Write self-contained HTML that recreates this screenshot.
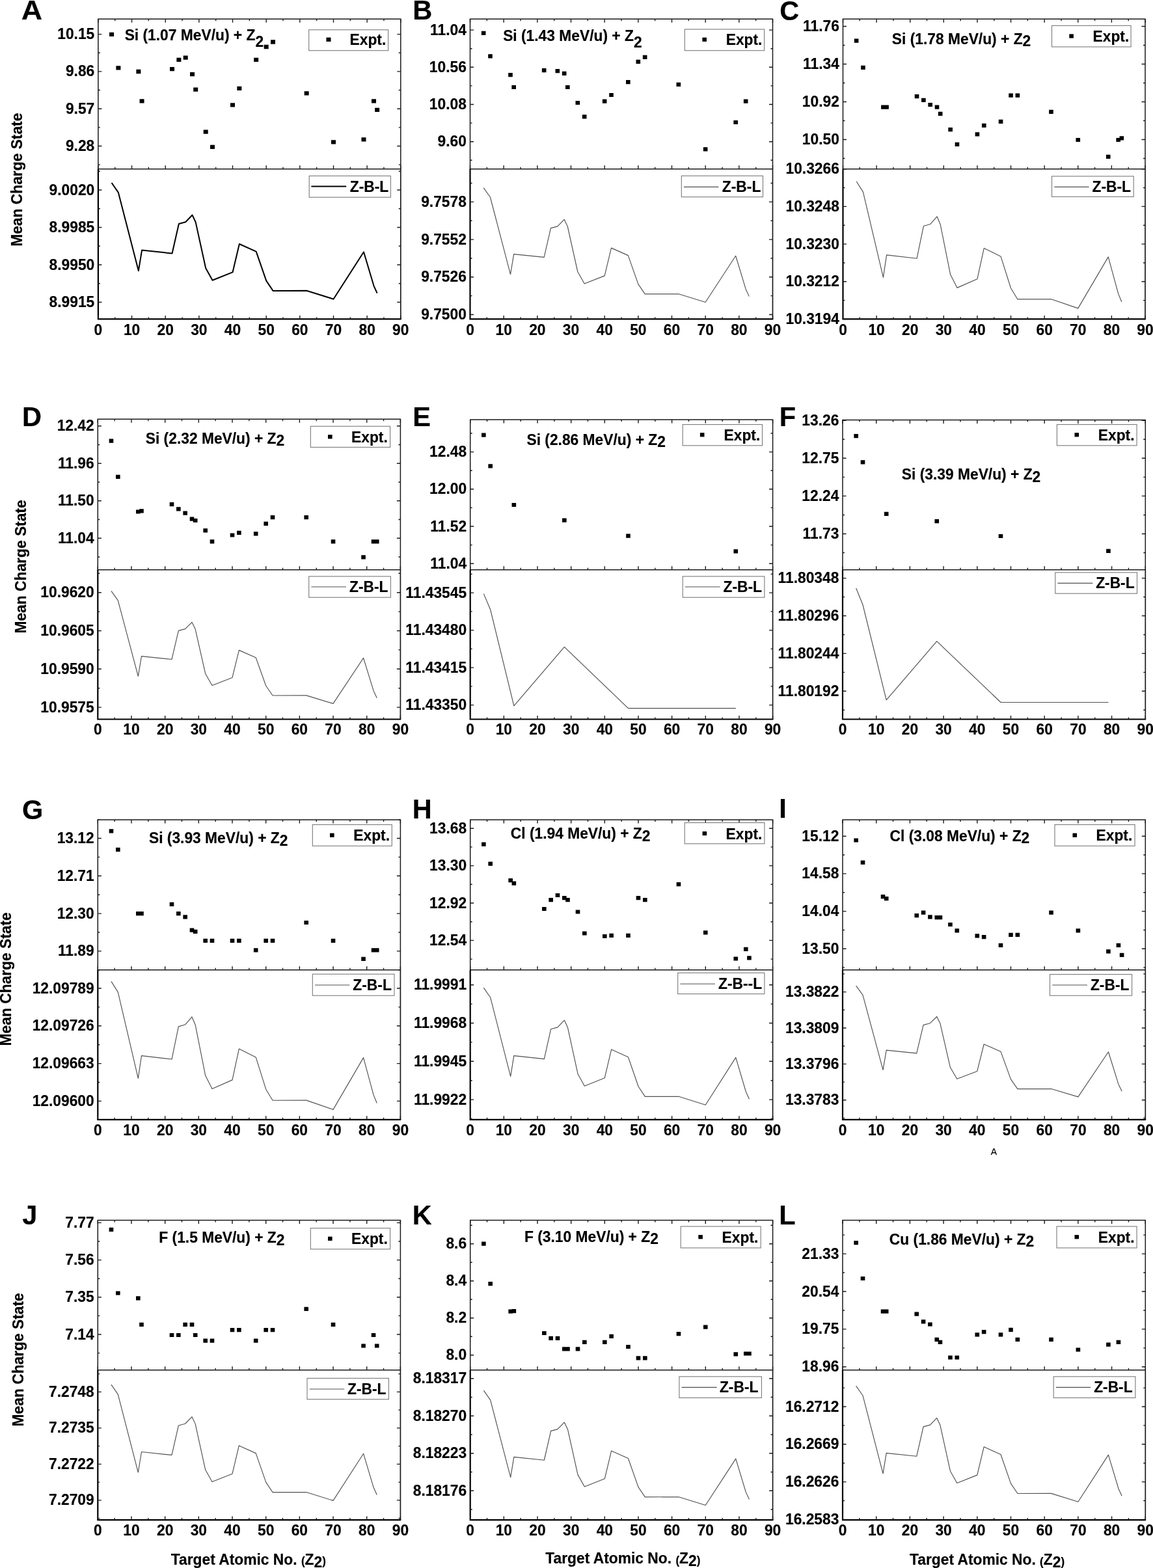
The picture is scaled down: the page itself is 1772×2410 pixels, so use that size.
<!DOCTYPE html>
<html><head><meta charset="utf-8"><title>Mean charge state vs target atomic number</title>
<style>html,body{margin:0;padding:0;background:#fff}svg{display:block}text{font-family:'Liberation Sans', Arial, sans-serif;font-weight:bold;fill:#000;stroke:#000;stroke-width:0.2px;stroke-linejoin:round}</style>
</head><body>
<svg width="1772" height="2410" viewBox="0 0 1772 2410">
<rect width="1772" height="2410" fill="#fff"/>
<path d="M150.9 259.8V29.3H615.8V259.8M150.9 259.8H615.8" fill="none" stroke="#1a1a1a" stroke-width="1.5" stroke-linecap="square"/>
<path d="M615.8 259.8V490.4" fill="none" stroke="#1a1a1a" stroke-width="1.7"/>
<path d="M150.9 259.8V490.4H616.65" fill="none" stroke="#000" stroke-width="2.2"/>
<path d="M150.9 29.3v5.5M150.9 259.8v-5.5M150.9 490.4v-5.5M176.73 29.3v3M176.73 259.8v-3M176.73 490.4v-3M202.56 29.3v5.5M202.56 259.8v-5.5M202.56 490.4v-5.5M228.38 29.3v3M228.38 259.8v-3M228.38 490.4v-3M254.21 29.3v5.5M254.21 259.8v-5.5M254.21 490.4v-5.5M280.04 29.3v3M280.04 259.8v-3M280.04 490.4v-3M305.87 29.3v5.5M305.87 259.8v-5.5M305.87 490.4v-5.5M331.69 29.3v3M331.69 259.8v-3M331.69 490.4v-3M357.52 29.3v5.5M357.52 259.8v-5.5M357.52 490.4v-5.5M383.35 29.3v3M383.35 259.8v-3M383.35 490.4v-3M409.18 29.3v5.5M409.18 259.8v-5.5M409.18 490.4v-5.5M435.01 29.3v3M435.01 259.8v-3M435.01 490.4v-3M460.83 29.3v5.5M460.83 259.8v-5.5M460.83 490.4v-5.5M486.66 29.3v3M486.66 259.8v-3M486.66 490.4v-3M512.49 29.3v5.5M512.49 259.8v-5.5M512.49 490.4v-5.5M538.32 29.3v3M538.32 259.8v-3M538.32 490.4v-3M564.14 29.3v5.5M564.14 259.8v-5.5M564.14 490.4v-5.5M589.97 29.3v3M589.97 259.8v-3M589.97 490.4v-3M615.8 29.3v5.5M615.8 259.8v-5.5M615.8 490.4v-5.5M150.9 52.6h5.5M615.8 52.6h-5.5M150.9 81.25h3M615.8 81.25h-3M150.9 109.9h5.5M615.8 109.9h-5.5M150.9 138.55h3M615.8 138.55h-3M150.9 167.2h5.5M615.8 167.2h-5.5M150.9 195.85h3M615.8 195.85h-3M150.9 224.5h5.5M615.8 224.5h-5.5M150.9 253.15h3M615.8 253.15h-3M150.9 263.25h3M615.8 263.25h-3M150.9 292h5.5M615.8 292h-5.5M150.9 320.75h3M615.8 320.75h-3M150.9 349.5h5.5M615.8 349.5h-5.5M150.9 378.25h3M615.8 378.25h-3M150.9 407h5.5M615.8 407h-5.5M150.9 435.75h3M615.8 435.75h-3M150.9 464.5h5.5M615.8 464.5h-5.5" fill="none" stroke="#1a1a1a" stroke-width="1.4"/>
<text transform="translate(145.3 60.1) scale(1 1.04)" font-size="22.8" text-anchor="end">10.15</text>
<text transform="translate(145.3 117.4) scale(1 1.04)" font-size="22.8" text-anchor="end">9.86</text>
<text transform="translate(145.3 174.7) scale(1 1.04)" font-size="22.8" text-anchor="end">9.57</text>
<text transform="translate(145.3 232) scale(1 1.04)" font-size="22.8" text-anchor="end">9.28</text>
<text transform="translate(145.3 299.5) scale(1 1.04)" font-size="22.8" text-anchor="end">9.0020</text>
<text transform="translate(145.3 357) scale(1 1.04)" font-size="22.8" text-anchor="end">8.9985</text>
<text transform="translate(145.3 414.5) scale(1 1.04)" font-size="22.8" text-anchor="end">8.9950</text>
<text transform="translate(145.3 472) scale(1 1.04)" font-size="22.8" text-anchor="end">8.9915</text>
<text transform="translate(150.9 514.7) scale(1 1.04)" font-size="22.8" text-anchor="middle">0</text>
<text transform="translate(202.56 514.7) scale(1 1.04)" font-size="22.8" text-anchor="middle">10</text>
<text transform="translate(254.21 514.7) scale(1 1.04)" font-size="22.8" text-anchor="middle">20</text>
<text transform="translate(305.87 514.7) scale(1 1.04)" font-size="22.8" text-anchor="middle">30</text>
<text transform="translate(357.52 514.7) scale(1 1.04)" font-size="22.8" text-anchor="middle">40</text>
<text transform="translate(409.18 514.7) scale(1 1.04)" font-size="22.8" text-anchor="middle">50</text>
<text transform="translate(460.83 514.7) scale(1 1.04)" font-size="22.8" text-anchor="middle">60</text>
<text transform="translate(512.49 514.7) scale(1 1.04)" font-size="22.8" text-anchor="middle">70</text>
<text transform="translate(564.14 514.7) scale(1 1.04)" font-size="22.8" text-anchor="middle">80</text>
<text transform="translate(615.8 514.7) scale(1 1.04)" font-size="22.8" text-anchor="middle">90</text>
<path d="M168.06 49.75h7v6.3h-7ZM178.39 101.15h7v6.3h-7ZM209.39 106.85h7v6.3h-7ZM214.55 152.15h7v6.3h-7ZM261.04 103.05h7v6.3h-7ZM271.37 88.75h7v6.3h-7ZM281.7 85.45h7v6.3h-7ZM292.04 110.95h7v6.3h-7ZM297.2 134.55h7v6.3h-7ZM312.7 199.45h7v6.3h-7ZM323.03 222.75h7v6.3h-7ZM354.02 158.25h7v6.3h-7ZM364.35 132.65h7v6.3h-7ZM390.18 88.75h7v6.3h-7ZM405.68 68.85h7v6.3h-7ZM416.01 61.35h7v6.3h-7ZM467.66 140.15h7v6.3h-7ZM508.99 215.25h7v6.3h-7ZM555.48 211.15h7v6.3h-7ZM570.98 152.15h7v6.3h-7ZM576.14 165.75h7v6.3h-7Z" fill="#000"/>
<polyline points="171.56,281 181.89,295.9 212.89,416.2 218.05,384.59 264.54,389.51 274.87,343.99 285.2,341.2 295.54,330.5 300.7,341.6 316.2,412.2 326.53,430.8 357.52,418.4 367.85,375 393.68,386.7 409.18,431.39 419.51,446.91 471.16,446.74 512.49,459.7 558.98,387.31 574.48,439.29 579.64,450.69" fill="none" stroke="#000" stroke-width="2.0" stroke-linejoin="round"/>
<rect x="474.7" y="45.8" width="121.9" height="31.9" fill="#fff" stroke="#7a7a7a" stroke-width="1.1"/>
<rect x="501.5" y="57.65" width="7" height="6.3" fill="#000"/>
<text transform="translate(537.5 69.4) scale(1 1.04)" font-size="22.8" text-anchor="start">Expt.</text>
<rect x="475.2" y="270.4" width="125.2" height="32.8" fill="#fff" stroke="#7a7a7a" stroke-width="1.1"/>
<path d="M478.4 286.5H532.2" stroke="#000" stroke-width="2.0"/>
<text transform="translate(537.74 294.8) scale(1 1.04)" font-size="22.8" text-anchor="start">Z-B-L</text>
<text transform="translate(191.66 62.3) scale(1 1.04)" font-size="22.8" text-anchor="start">Si (1.07 MeV/u) + Z<tspan dy="9.13">2</tspan></text>
<text transform="translate(32.72 30) scale(1.08 1.04)" font-size="41.5">A</text>
<path d="M722.5 259.8V29.3H1187.5V259.8M722.5 259.8H1187.5" fill="none" stroke="#1a1a1a" stroke-width="1.5" stroke-linecap="square"/>
<path d="M1187.5 259.8V490.4" fill="none" stroke="#1a1a1a" stroke-width="1.7"/>
<path d="M722.5 259.8V490.4H1188.35" fill="none" stroke="#000" stroke-width="2.2"/>
<path d="M722.5 29.3v5.5M722.5 259.8v-5.5M722.5 490.4v-5.5M748.33 29.3v3M748.33 259.8v-3M748.33 490.4v-3M774.17 29.3v5.5M774.17 259.8v-5.5M774.17 490.4v-5.5M800 29.3v3M800 259.8v-3M800 490.4v-3M825.83 29.3v5.5M825.83 259.8v-5.5M825.83 490.4v-5.5M851.67 29.3v3M851.67 259.8v-3M851.67 490.4v-3M877.5 29.3v5.5M877.5 259.8v-5.5M877.5 490.4v-5.5M903.33 29.3v3M903.33 259.8v-3M903.33 490.4v-3M929.17 29.3v5.5M929.17 259.8v-5.5M929.17 490.4v-5.5M955 29.3v3M955 259.8v-3M955 490.4v-3M980.83 29.3v5.5M980.83 259.8v-5.5M980.83 490.4v-5.5M1006.67 29.3v3M1006.67 259.8v-3M1006.67 490.4v-3M1032.5 29.3v5.5M1032.5 259.8v-5.5M1032.5 490.4v-5.5M1058.33 29.3v3M1058.33 259.8v-3M1058.33 490.4v-3M1084.17 29.3v5.5M1084.17 259.8v-5.5M1084.17 490.4v-5.5M1110 29.3v3M1110 259.8v-3M1110 490.4v-3M1135.83 29.3v5.5M1135.83 259.8v-5.5M1135.83 490.4v-5.5M1161.67 29.3v3M1161.67 259.8v-3M1161.67 490.4v-3M1187.5 29.3v5.5M1187.5 259.8v-5.5M1187.5 490.4v-5.5M722.5 46.1h5.5M1187.5 46.1h-5.5M722.5 74.7h3M1187.5 74.7h-3M722.5 103.3h5.5M1187.5 103.3h-5.5M722.5 131.9h3M1187.5 131.9h-3M722.5 160.5h5.5M1187.5 160.5h-5.5M722.5 189.1h3M1187.5 189.1h-3M722.5 217.7h5.5M1187.5 217.7h-5.5M722.5 246.3h3M1187.5 246.3h-3M722.5 281.55h3M1187.5 281.55h-3M722.5 310.4h5.5M1187.5 310.4h-5.5M722.5 339.25h3M1187.5 339.25h-3M722.5 368.1h5.5M1187.5 368.1h-5.5M722.5 396.95h3M1187.5 396.95h-3M722.5 425.8h5.5M1187.5 425.8h-5.5M722.5 454.65h3M1187.5 454.65h-3M722.5 483.5h5.5M1187.5 483.5h-5.5" fill="none" stroke="#1a1a1a" stroke-width="1.4"/>
<text transform="translate(716.9 53.6) scale(1 1.04)" font-size="22.8" text-anchor="end">11.04</text>
<text transform="translate(716.9 110.8) scale(1 1.04)" font-size="22.8" text-anchor="end">10.56</text>
<text transform="translate(716.9 168) scale(1 1.04)" font-size="22.8" text-anchor="end">10.08</text>
<text transform="translate(716.9 225.2) scale(1 1.04)" font-size="22.8" text-anchor="end">9.60</text>
<text transform="translate(716.9 317.9) scale(1 1.04)" font-size="22.8" text-anchor="end">9.7578</text>
<text transform="translate(716.9 375.6) scale(1 1.04)" font-size="22.8" text-anchor="end">9.7552</text>
<text transform="translate(716.9 433.3) scale(1 1.04)" font-size="22.8" text-anchor="end">9.7526</text>
<text transform="translate(716.9 491) scale(1 1.04)" font-size="22.8" text-anchor="end">9.7500</text>
<text transform="translate(722.5 514.7) scale(1 1.04)" font-size="22.8" text-anchor="middle">0</text>
<text transform="translate(774.17 514.7) scale(1 1.04)" font-size="22.8" text-anchor="middle">10</text>
<text transform="translate(825.83 514.7) scale(1 1.04)" font-size="22.8" text-anchor="middle">20</text>
<text transform="translate(877.5 514.7) scale(1 1.04)" font-size="22.8" text-anchor="middle">30</text>
<text transform="translate(929.17 514.7) scale(1 1.04)" font-size="22.8" text-anchor="middle">40</text>
<text transform="translate(980.83 514.7) scale(1 1.04)" font-size="22.8" text-anchor="middle">50</text>
<text transform="translate(1032.5 514.7) scale(1 1.04)" font-size="22.8" text-anchor="middle">60</text>
<text transform="translate(1084.17 514.7) scale(1 1.04)" font-size="22.8" text-anchor="middle">70</text>
<text transform="translate(1135.83 514.7) scale(1 1.04)" font-size="22.8" text-anchor="middle">80</text>
<text transform="translate(1187.5 514.7) scale(1 1.04)" font-size="22.8" text-anchor="middle">90</text>
<path d="M739.87 47.8h6.6v6.2h-6.6ZM750.2 83.2h6.6v6.2h-6.6ZM781.2 112.1h6.6v6.2h-6.6ZM786.37 130.9h6.6v6.2h-6.6ZM832.87 105h6.6v6.2h-6.6ZM853.53 106.1h6.6v6.2h-6.6ZM863.87 109.8h6.6v6.2h-6.6ZM869.03 130.9h6.6v6.2h-6.6ZM884.53 154.9h6.6v6.2h-6.6ZM894.87 176.3h6.6v6.2h-6.6ZM925.87 152.6h6.6v6.2h-6.6ZM936.2 142.9h6.6v6.2h-6.6ZM962.03 123h6.6v6.2h-6.6ZM977.53 91.8h6.6v6.2h-6.6ZM987.87 84.7h6.6v6.2h-6.6ZM1039.53 126.7h6.6v6.2h-6.6ZM1080.87 226.2h6.6v6.2h-6.6ZM1127.37 184.9h6.6v6.2h-6.6ZM1142.87 152.6h6.6v6.2h-6.6Z" fill="#000"/>
<polyline points="743.17,288.6 753.5,303.27 784.5,421.69 789.67,390.57 836.17,395.41 846.5,350.6 856.83,347.86 867.17,337.32 872.33,348.25 887.83,417.75 898.17,436.06 929.17,423.85 939.5,381.12 965.33,392.64 980.83,436.64 991.17,451.91 1042.83,451.75 1084.17,464.5 1130.67,393.24 1146.17,444.41 1151.33,455.63" fill="none" stroke="#505050" stroke-width="1.15" stroke-linejoin="round"/>
<rect x="1052.3" y="45" width="122.3" height="32.7" fill="#fff" stroke="#7a7a7a" stroke-width="1.1"/>
<rect x="1079.4" y="57.7" width="6.6" height="6.2" fill="#000"/>
<text transform="translate(1115.7 69.4) scale(1 1.04)" font-size="22.8" text-anchor="start">Expt.</text>
<rect x="1047.3" y="270.3" width="125.2" height="32.4" fill="#fff" stroke="#7a7a7a" stroke-width="1.1"/>
<path d="M1050.9 287.3H1104.4" stroke="#505050" stroke-width="1.15"/>
<text transform="translate(1109.84 294.5) scale(1 1.04)" font-size="22.8" text-anchor="start">Z-B-L</text>
<text transform="translate(773.16 63.2) scale(1 1.04)" font-size="22.8" text-anchor="start">Si (1.43 MeV/u) + Z<tspan dy="9.13">2</tspan></text>
<text transform="translate(634.36 30) scale(1 1.04)" font-size="41.5" text-anchor="start">B</text>
<path d="M1295.5 259.8V29.3H1760V259.8M1295.5 259.8H1760" fill="none" stroke="#1a1a1a" stroke-width="1.5" stroke-linecap="square"/>
<path d="M1760 259.8V490.4" fill="none" stroke="#1a1a1a" stroke-width="1.7"/>
<path d="M1295.5 259.8V490.4H1760.85" fill="none" stroke="#000" stroke-width="2.2"/>
<path d="M1295.5 29.3v5.5M1295.5 259.8v-5.5M1295.5 490.4v-5.5M1321.31 29.3v3M1321.31 259.8v-3M1321.31 490.4v-3M1347.11 29.3v5.5M1347.11 259.8v-5.5M1347.11 490.4v-5.5M1372.92 29.3v3M1372.92 259.8v-3M1372.92 490.4v-3M1398.72 29.3v5.5M1398.72 259.8v-5.5M1398.72 490.4v-5.5M1424.53 29.3v3M1424.53 259.8v-3M1424.53 490.4v-3M1450.33 29.3v5.5M1450.33 259.8v-5.5M1450.33 490.4v-5.5M1476.14 29.3v3M1476.14 259.8v-3M1476.14 490.4v-3M1501.94 29.3v5.5M1501.94 259.8v-5.5M1501.94 490.4v-5.5M1527.75 29.3v3M1527.75 259.8v-3M1527.75 490.4v-3M1553.56 29.3v5.5M1553.56 259.8v-5.5M1553.56 490.4v-5.5M1579.36 29.3v3M1579.36 259.8v-3M1579.36 490.4v-3M1605.17 29.3v5.5M1605.17 259.8v-5.5M1605.17 490.4v-5.5M1630.97 29.3v3M1630.97 259.8v-3M1630.97 490.4v-3M1656.78 29.3v5.5M1656.78 259.8v-5.5M1656.78 490.4v-5.5M1682.58 29.3v3M1682.58 259.8v-3M1682.58 490.4v-3M1708.39 29.3v5.5M1708.39 259.8v-5.5M1708.39 490.4v-5.5M1734.19 29.3v3M1734.19 259.8v-3M1734.19 490.4v-3M1760 29.3v5.5M1760 259.8v-5.5M1760 490.4v-5.5M1295.5 40.5h5.5M1760 40.5h-5.5M1295.5 69.5h3M1760 69.5h-3M1295.5 98.5h5.5M1760 98.5h-5.5M1295.5 127.5h3M1760 127.5h-3M1295.5 156.5h5.5M1760 156.5h-5.5M1295.5 185.5h3M1760 185.5h-3M1295.5 214.5h5.5M1760 214.5h-5.5M1295.5 243.5h3M1760 243.5h-3M1295.5 259.7h5.5M1760 259.7h-5.5M1295.5 288.55h3M1760 288.55h-3M1295.5 317.4h5.5M1760 317.4h-5.5M1295.5 346.25h3M1760 346.25h-3M1295.5 375.1h5.5M1760 375.1h-5.5M1295.5 403.95h3M1760 403.95h-3M1295.5 432.8h5.5M1760 432.8h-5.5M1295.5 461.65h3M1760 461.65h-3M1295.5 490.5h5.5M1760 490.5h-5.5" fill="none" stroke="#1a1a1a" stroke-width="1.4"/>
<text transform="translate(1289.9 48) scale(1 1.04)" font-size="22.8" text-anchor="end">11.76</text>
<text transform="translate(1289.9 106) scale(1 1.04)" font-size="22.8" text-anchor="end">11.34</text>
<text transform="translate(1289.9 164) scale(1 1.04)" font-size="22.8" text-anchor="end">10.92</text>
<text transform="translate(1289.9 222) scale(1 1.04)" font-size="22.8" text-anchor="end">10.50</text>
<text transform="translate(1289.9 267.2) scale(1 1.04)" font-size="22.8" text-anchor="end">10.3266</text>
<text transform="translate(1289.9 324.9) scale(1 1.04)" font-size="22.8" text-anchor="end">10.3248</text>
<text transform="translate(1289.9 382.6) scale(1 1.04)" font-size="22.8" text-anchor="end">10.3230</text>
<text transform="translate(1289.9 440.3) scale(1 1.04)" font-size="22.8" text-anchor="end">10.3212</text>
<text transform="translate(1289.9 498) scale(1 1.04)" font-size="22.8" text-anchor="end">10.3194</text>
<text transform="translate(1295.5 514.7) scale(1 1.04)" font-size="22.8" text-anchor="middle">0</text>
<text transform="translate(1347.11 514.7) scale(1 1.04)" font-size="22.8" text-anchor="middle">10</text>
<text transform="translate(1398.72 514.7) scale(1 1.04)" font-size="22.8" text-anchor="middle">20</text>
<text transform="translate(1450.33 514.7) scale(1 1.04)" font-size="22.8" text-anchor="middle">30</text>
<text transform="translate(1501.94 514.7) scale(1 1.04)" font-size="22.8" text-anchor="middle">40</text>
<text transform="translate(1553.56 514.7) scale(1 1.04)" font-size="22.8" text-anchor="middle">50</text>
<text transform="translate(1605.17 514.7) scale(1 1.04)" font-size="22.8" text-anchor="middle">60</text>
<text transform="translate(1656.78 514.7) scale(1 1.04)" font-size="22.8" text-anchor="middle">70</text>
<text transform="translate(1708.39 514.7) scale(1 1.04)" font-size="22.8" text-anchor="middle">80</text>
<text transform="translate(1760 514.7) scale(1 1.04)" font-size="22.8" text-anchor="middle">90</text>
<path d="M1312.84 59.6h6.6v6.2h-6.6ZM1323.17 100.8h6.6v6.2h-6.6ZM1354.13 161.6h6.6v6.2h-6.6ZM1359.29 161.6h6.6v6.2h-6.6ZM1405.74 145.1h6.6v6.2h-6.6ZM1416.07 150.7h6.6v6.2h-6.6ZM1426.39 157.9h6.6v6.2h-6.6ZM1436.71 161.6h6.6v6.2h-6.6ZM1441.87 171.8h6.6v6.2h-6.6ZM1457.36 196.1h6.6v6.2h-6.6ZM1467.68 218.7h6.6v6.2h-6.6ZM1498.64 203.3h6.6v6.2h-6.6ZM1508.97 189.8h6.6v6.2h-6.6ZM1534.77 183.8h6.6v6.2h-6.6ZM1550.26 143.6h6.6v6.2h-6.6ZM1560.58 143.6h6.6v6.2h-6.6ZM1612.19 168.8h6.6v6.2h-6.6ZM1653.48 211.9h6.6v6.2h-6.6ZM1699.93 237.8h6.6v6.2h-6.6ZM1715.41 211.9h6.6v6.2h-6.6ZM1720.57 209.3h6.6v6.2h-6.6Z" fill="#000"/>
<polyline points="1316.14,278.8 1326.47,295.07 1357.43,426.41 1362.59,391.9 1409.04,397.26 1419.37,347.57 1429.69,344.53 1440.01,332.84 1445.17,344.96 1460.66,422.04 1470.98,442.35 1501.94,428.81 1512.27,381.42 1538.07,394.2 1553.56,443 1563.88,459.93 1615.49,459.76 1656.78,473.9 1703.23,394.86 1718.71,451.62 1723.87,464.07" fill="none" stroke="#505050" stroke-width="1.15" stroke-linejoin="round"/>
<rect x="1616.5" y="39.4" width="121.6" height="32.6" fill="#fff" stroke="#7a7a7a" stroke-width="1.1"/>
<rect x="1643.3" y="52.4" width="6.6" height="6.2" fill="#000"/>
<text transform="translate(1679.5 64) scale(1 1.04)" font-size="22.8" text-anchor="start">Expt.</text>
<rect x="1616.5" y="270.9" width="125.7" height="31.5" fill="#fff" stroke="#7a7a7a" stroke-width="1.1"/>
<path d="M1620.3 287.4H1673.6" stroke="#505050" stroke-width="1.15"/>
<text transform="translate(1678.54 294.5) scale(1 1.04)" font-size="22.8" text-anchor="start">Z-B-L</text>
<text transform="translate(1370.86 67.8) scale(1 1.04)" font-size="22.8" text-anchor="start">Si (1.78 MeV/u) + Z<tspan dy="3.27">2</tspan></text>
<text transform="translate(1198.3 30.5) scale(1 1.04)" font-size="41.5" text-anchor="start">C</text>
<path d="M150.3 875.8V644.3H615.4V875.8M150.3 875.8H615.4" fill="none" stroke="#1a1a1a" stroke-width="1.5" stroke-linecap="square"/>
<path d="M615.4 875.8V1105.5" fill="none" stroke="#1a1a1a" stroke-width="1.7"/>
<path d="M150.3 875.8V1105.5H616.25" fill="none" stroke="#000" stroke-width="2.2"/>
<path d="M150.3 644.3v5.5M150.3 875.8v-5.5M150.3 1105.5v-5.5M176.14 644.3v3M176.14 875.8v-3M176.14 1105.5v-3M201.98 644.3v5.5M201.98 875.8v-5.5M201.98 1105.5v-5.5M227.82 644.3v3M227.82 875.8v-3M227.82 1105.5v-3M253.66 644.3v5.5M253.66 875.8v-5.5M253.66 1105.5v-5.5M279.49 644.3v3M279.49 875.8v-3M279.49 1105.5v-3M305.33 644.3v5.5M305.33 875.8v-5.5M305.33 1105.5v-5.5M331.17 644.3v3M331.17 875.8v-3M331.17 1105.5v-3M357.01 644.3v5.5M357.01 875.8v-5.5M357.01 1105.5v-5.5M382.85 644.3v3M382.85 875.8v-3M382.85 1105.5v-3M408.69 644.3v5.5M408.69 875.8v-5.5M408.69 1105.5v-5.5M434.53 644.3v3M434.53 875.8v-3M434.53 1105.5v-3M460.37 644.3v5.5M460.37 875.8v-5.5M460.37 1105.5v-5.5M486.21 644.3v3M486.21 875.8v-3M486.21 1105.5v-3M512.04 644.3v5.5M512.04 875.8v-5.5M512.04 1105.5v-5.5M537.88 644.3v3M537.88 875.8v-3M537.88 1105.5v-3M563.72 644.3v5.5M563.72 875.8v-5.5M563.72 1105.5v-5.5M589.56 644.3v3M589.56 875.8v-3M589.56 1105.5v-3M615.4 644.3v5.5M615.4 875.8v-5.5M615.4 1105.5v-5.5M150.3 654.8h5.5M615.4 654.8h-5.5M150.3 683.55h3M615.4 683.55h-3M150.3 712.3h5.5M615.4 712.3h-5.5M150.3 741.05h3M615.4 741.05h-3M150.3 769.8h5.5M615.4 769.8h-5.5M150.3 798.55h3M615.4 798.55h-3M150.3 827.3h5.5M615.4 827.3h-5.5M150.3 856.05h3M615.4 856.05h-3M150.3 881.3h3M615.4 881.3h-3M150.3 910.7h5.5M615.4 910.7h-5.5M150.3 940.1h3M615.4 940.1h-3M150.3 969.5h5.5M615.4 969.5h-5.5M150.3 998.9h3M615.4 998.9h-3M150.3 1028.3h5.5M615.4 1028.3h-5.5M150.3 1057.7h3M615.4 1057.7h-3M150.3 1087.1h5.5M615.4 1087.1h-5.5" fill="none" stroke="#1a1a1a" stroke-width="1.4"/>
<text transform="translate(144.7 662.3) scale(1 1.04)" font-size="22.8" text-anchor="end">12.42</text>
<text transform="translate(144.7 719.8) scale(1 1.04)" font-size="22.8" text-anchor="end">11.96</text>
<text transform="translate(144.7 777.3) scale(1 1.04)" font-size="22.8" text-anchor="end">11.50</text>
<text transform="translate(144.7 834.8) scale(1 1.04)" font-size="22.8" text-anchor="end">11.04</text>
<text transform="translate(144.7 918.2) scale(1 1.04)" font-size="22.8" text-anchor="end">10.9620</text>
<text transform="translate(144.7 977) scale(1 1.04)" font-size="22.8" text-anchor="end">10.9605</text>
<text transform="translate(144.7 1035.8) scale(1 1.04)" font-size="22.8" text-anchor="end">10.9590</text>
<text transform="translate(144.7 1094.6) scale(1 1.04)" font-size="22.8" text-anchor="end">10.9575</text>
<text transform="translate(150.3 1129.4) scale(1 1.04)" font-size="22.8" text-anchor="middle">0</text>
<text transform="translate(201.98 1129.4) scale(1 1.04)" font-size="22.8" text-anchor="middle">10</text>
<text transform="translate(253.66 1129.4) scale(1 1.04)" font-size="22.8" text-anchor="middle">20</text>
<text transform="translate(305.33 1129.4) scale(1 1.04)" font-size="22.8" text-anchor="middle">30</text>
<text transform="translate(357.01 1129.4) scale(1 1.04)" font-size="22.8" text-anchor="middle">40</text>
<text transform="translate(408.69 1129.4) scale(1 1.04)" font-size="22.8" text-anchor="middle">50</text>
<text transform="translate(460.37 1129.4) scale(1 1.04)" font-size="22.8" text-anchor="middle">60</text>
<text transform="translate(512.04 1129.4) scale(1 1.04)" font-size="22.8" text-anchor="middle">70</text>
<text transform="translate(563.72 1129.4) scale(1 1.04)" font-size="22.8" text-anchor="middle">80</text>
<text transform="translate(615.4 1129.4) scale(1 1.04)" font-size="22.8" text-anchor="middle">90</text>
<path d="M167.67 674.6h6.6v6.2h-6.6ZM178.01 729.7h6.6v6.2h-6.6ZM209.01 783.4h6.6v6.2h-6.6ZM214.18 782.3h6.6v6.2h-6.6ZM260.69 772.1h6.6v6.2h-6.6ZM271.03 779.3h6.6v6.2h-6.6ZM281.36 785.6h6.6v6.2h-6.6ZM291.7 794.6h6.6v6.2h-6.6ZM296.87 796.9h6.6v6.2h-6.6ZM312.37 812.3h6.6v6.2h-6.6ZM322.7 829.2h6.6v6.2h-6.6ZM353.71 819.4h6.6v6.2h-6.6ZM364.05 815.7h6.6v6.2h-6.6ZM389.89 817.2h6.6v6.2h-6.6ZM405.39 801.8h6.6v6.2h-6.6ZM415.72 792h6.6v6.2h-6.6ZM467.4 792h6.6v6.2h-6.6ZM508.74 829.2h6.6v6.2h-6.6ZM555.25 853.2h6.6v6.2h-6.6ZM570.76 829.2h6.6v6.2h-6.6ZM575.93 829.2h6.6v6.2h-6.6Z" fill="#000"/>
<polyline points="170.97,908.4 181.31,922.83 212.31,1039.29 217.48,1008.69 263.99,1013.45 274.33,969.38 284.66,966.68 295,956.32 300.17,967.06 315.67,1035.42 326,1053.43 357.01,1041.42 367.35,999.4 393.19,1010.73 408.69,1054 419.02,1069.01 470.7,1068.86 512.04,1081.4 558.55,1011.32 574.06,1061.64 579.23,1072.68" fill="none" stroke="#505050" stroke-width="1.15" stroke-linejoin="round"/>
<rect x="477.3" y="655.2" width="122.3" height="32.2" fill="#fff" stroke="#7a7a7a" stroke-width="1.1"/>
<rect x="504" y="668.2" width="6.6" height="6.2" fill="#000"/>
<text transform="translate(540 680) scale(1 1.04)" font-size="22.8" text-anchor="start">Expt.</text>
<rect x="474.7" y="885.9" width="125.7" height="32.3" fill="#fff" stroke="#7a7a7a" stroke-width="1.1"/>
<path d="M478.4 902H532" stroke="#505050" stroke-width="1.15"/>
<text transform="translate(537.04 910) scale(1 1.04)" font-size="22.8" text-anchor="start">Z-B-L</text>
<text transform="translate(223.76 681.7) scale(1 1.04)" font-size="22.8" text-anchor="start">Si (2.32 MeV/u) + Z<tspan dy="3.27">2</tspan></text>
<text transform="translate(33.96 654.6) scale(1 1.04)" font-size="41.5" text-anchor="start">D</text>
<path d="M722.7 875.8V645H1187.6V875.8M722.7 875.8H1187.6" fill="none" stroke="#1a1a1a" stroke-width="1.5" stroke-linecap="square"/>
<path d="M1187.6 875.8V1105.5" fill="none" stroke="#1a1a1a" stroke-width="1.7"/>
<path d="M722.7 875.8V1105.5H1188.45" fill="none" stroke="#000" stroke-width="2.2"/>
<path d="M722.7 645v5.5M722.7 875.8v-5.5M722.7 1105.5v-5.5M748.53 645v3M748.53 875.8v-3M748.53 1105.5v-3M774.36 645v5.5M774.36 875.8v-5.5M774.36 1105.5v-5.5M800.18 645v3M800.18 875.8v-3M800.18 1105.5v-3M826.01 645v5.5M826.01 875.8v-5.5M826.01 1105.5v-5.5M851.84 645v3M851.84 875.8v-3M851.84 1105.5v-3M877.67 645v5.5M877.67 875.8v-5.5M877.67 1105.5v-5.5M903.49 645v3M903.49 875.8v-3M903.49 1105.5v-3M929.32 645v5.5M929.32 875.8v-5.5M929.32 1105.5v-5.5M955.15 645v3M955.15 875.8v-3M955.15 1105.5v-3M980.98 645v5.5M980.98 875.8v-5.5M980.98 1105.5v-5.5M1006.81 645v3M1006.81 875.8v-3M1006.81 1105.5v-3M1032.63 645v5.5M1032.63 875.8v-5.5M1032.63 1105.5v-5.5M1058.46 645v3M1058.46 875.8v-3M1058.46 1105.5v-3M1084.29 645v5.5M1084.29 875.8v-5.5M1084.29 1105.5v-5.5M1110.12 645v3M1110.12 875.8v-3M1110.12 1105.5v-3M1135.94 645v5.5M1135.94 875.8v-5.5M1135.94 1105.5v-5.5M1161.77 645v3M1161.77 875.8v-3M1161.77 1105.5v-3M1187.6 645v5.5M1187.6 875.8v-5.5M1187.6 1105.5v-5.5M722.7 666h3M1187.6 666h-3M722.7 694.6h5.5M1187.6 694.6h-5.5M722.7 723.2h3M1187.6 723.2h-3M722.7 751.8h5.5M1187.6 751.8h-5.5M722.7 780.4h3M1187.6 780.4h-3M722.7 809h5.5M1187.6 809h-5.5M722.7 837.6h3M1187.6 837.6h-3M722.7 866.2h5.5M1187.6 866.2h-5.5M722.7 882.35h3M1187.6 882.35h-3M722.7 911.1h5.5M1187.6 911.1h-5.5M722.7 939.85h3M1187.6 939.85h-3M722.7 968.6h5.5M1187.6 968.6h-5.5M722.7 997.35h3M1187.6 997.35h-3M722.7 1026.1h5.5M1187.6 1026.1h-5.5M722.7 1054.85h3M1187.6 1054.85h-3M722.7 1083.6h5.5M1187.6 1083.6h-5.5" fill="none" stroke="#1a1a1a" stroke-width="1.4"/>
<text transform="translate(717.1 702.1) scale(1 1.04)" font-size="22.8" text-anchor="end">12.48</text>
<text transform="translate(717.1 759.3) scale(1 1.04)" font-size="22.8" text-anchor="end">12.00</text>
<text transform="translate(717.1 816.5) scale(1 1.04)" font-size="22.8" text-anchor="end">11.52</text>
<text transform="translate(717.1 873.7) scale(1 1.04)" font-size="22.8" text-anchor="end">11.04</text>
<text transform="translate(717.1 918.6) scale(1 1.04)" font-size="22.8" text-anchor="end">11.43545</text>
<text transform="translate(717.1 976.1) scale(1 1.04)" font-size="22.8" text-anchor="end">11.43480</text>
<text transform="translate(717.1 1033.6) scale(1 1.04)" font-size="22.8" text-anchor="end">11.43415</text>
<text transform="translate(717.1 1091.1) scale(1 1.04)" font-size="22.8" text-anchor="end">11.43350</text>
<text transform="translate(722.7 1129.4) scale(1 1.04)" font-size="22.8" text-anchor="middle">0</text>
<text transform="translate(774.36 1129.4) scale(1 1.04)" font-size="22.8" text-anchor="middle">10</text>
<text transform="translate(826.01 1129.4) scale(1 1.04)" font-size="22.8" text-anchor="middle">20</text>
<text transform="translate(877.67 1129.4) scale(1 1.04)" font-size="22.8" text-anchor="middle">30</text>
<text transform="translate(929.32 1129.4) scale(1 1.04)" font-size="22.8" text-anchor="middle">40</text>
<text transform="translate(980.98 1129.4) scale(1 1.04)" font-size="22.8" text-anchor="middle">50</text>
<text transform="translate(1032.63 1129.4) scale(1 1.04)" font-size="22.8" text-anchor="middle">60</text>
<text transform="translate(1084.29 1129.4) scale(1 1.04)" font-size="22.8" text-anchor="middle">70</text>
<text transform="translate(1135.94 1129.4) scale(1 1.04)" font-size="22.8" text-anchor="middle">80</text>
<text transform="translate(1187.6 1129.4) scale(1 1.04)" font-size="22.8" text-anchor="middle">90</text>
<path d="M740.06 665.6h6.6v6.2h-6.6ZM750.39 713.2h6.6v6.2h-6.6ZM786.55 772.9h6.6v6.2h-6.6ZM864.04 796.5h6.6v6.2h-6.6ZM962.18 820.5h6.6v6.2h-6.6ZM1127.48 844.2h6.6v6.2h-6.6Z" fill="#000"/>
<polyline points="743.36,912.6 753.69,937 789.85,1084.8 867.34,994.4 965.48,1088.6 1130.78,1088.6" fill="none" stroke="#505050" stroke-width="1.15" stroke-linejoin="round"/>
<rect x="1049.2" y="652.5" width="122.3" height="32.3" fill="#fff" stroke="#7a7a7a" stroke-width="1.1"/>
<rect x="1075.9" y="665.2" width="6.6" height="6.2" fill="#000"/>
<text transform="translate(1112.5 677) scale(1 1.04)" font-size="22.8" text-anchor="start">Expt.</text>
<rect x="1049.2" y="885.9" width="125.7" height="32.3" fill="#fff" stroke="#7a7a7a" stroke-width="1.1"/>
<path d="M1052.9 902H1106.6" stroke="#505050" stroke-width="1.15"/>
<text transform="translate(1111.54 910) scale(1 1.04)" font-size="22.8" text-anchor="start">Z-B-L</text>
<text transform="translate(809.46 683.5) scale(1 1.04)" font-size="22.8" text-anchor="start">Si (2.86 MeV/u) + Z<tspan dy="3.37">2</tspan></text>
<text transform="translate(634.16 655.2) scale(1 1.04)" font-size="41.5" text-anchor="start">E</text>
<path d="M1295 875.8V645.4H1760.3V875.8M1295 875.8H1760.3" fill="none" stroke="#1a1a1a" stroke-width="1.5" stroke-linecap="square"/>
<path d="M1760.3 875.8V1105.5" fill="none" stroke="#1a1a1a" stroke-width="1.7"/>
<path d="M1295 875.8V1105.5H1761.15" fill="none" stroke="#000" stroke-width="2.2"/>
<path d="M1295 645.4v5.5M1295 875.8v-5.5M1295 1105.5v-5.5M1320.85 645.4v3M1320.85 875.8v-3M1320.85 1105.5v-3M1346.7 645.4v5.5M1346.7 875.8v-5.5M1346.7 1105.5v-5.5M1372.55 645.4v3M1372.55 875.8v-3M1372.55 1105.5v-3M1398.4 645.4v5.5M1398.4 875.8v-5.5M1398.4 1105.5v-5.5M1424.25 645.4v3M1424.25 875.8v-3M1424.25 1105.5v-3M1450.1 645.4v5.5M1450.1 875.8v-5.5M1450.1 1105.5v-5.5M1475.95 645.4v3M1475.95 875.8v-3M1475.95 1105.5v-3M1501.8 645.4v5.5M1501.8 875.8v-5.5M1501.8 1105.5v-5.5M1527.65 645.4v3M1527.65 875.8v-3M1527.65 1105.5v-3M1553.5 645.4v5.5M1553.5 875.8v-5.5M1553.5 1105.5v-5.5M1579.35 645.4v3M1579.35 875.8v-3M1579.35 1105.5v-3M1605.2 645.4v5.5M1605.2 875.8v-5.5M1605.2 1105.5v-5.5M1631.05 645.4v3M1631.05 875.8v-3M1631.05 1105.5v-3M1656.9 645.4v5.5M1656.9 875.8v-5.5M1656.9 1105.5v-5.5M1682.75 645.4v3M1682.75 875.8v-3M1682.75 1105.5v-3M1708.6 645.4v5.5M1708.6 875.8v-5.5M1708.6 1105.5v-5.5M1734.45 645.4v3M1734.45 875.8v-3M1734.45 1105.5v-3M1760.3 645.4v5.5M1760.3 875.8v-5.5M1760.3 1105.5v-5.5M1295 646.2h5.5M1760.3 646.2h-5.5M1295 675.25h3M1760.3 675.25h-3M1295 704.3h5.5M1760.3 704.3h-5.5M1295 733.35h3M1760.3 733.35h-3M1295 762.4h5.5M1760.3 762.4h-5.5M1295 791.45h3M1760.3 791.45h-3M1295 820.5h5.5M1760.3 820.5h-5.5M1295 849.55h3M1760.3 849.55h-3M1295 888.6h5.5M1760.3 888.6h-5.5M1295 917.55h3M1760.3 917.55h-3M1295 946.5h5.5M1760.3 946.5h-5.5M1295 975.45h3M1760.3 975.45h-3M1295 1004.4h5.5M1760.3 1004.4h-5.5M1295 1033.35h3M1760.3 1033.35h-3M1295 1062.3h5.5M1760.3 1062.3h-5.5M1295 1091.25h3M1760.3 1091.25h-3" fill="none" stroke="#1a1a1a" stroke-width="1.4"/>
<text transform="translate(1289.4 653.7) scale(1 1.04)" font-size="22.8" text-anchor="end">13.26</text>
<text transform="translate(1289.4 711.8) scale(1 1.04)" font-size="22.8" text-anchor="end">12.75</text>
<text transform="translate(1289.4 769.9) scale(1 1.04)" font-size="22.8" text-anchor="end">12.24</text>
<text transform="translate(1289.4 828) scale(1 1.04)" font-size="22.8" text-anchor="end">11.73</text>
<text transform="translate(1289.4 896.1) scale(1 1.04)" font-size="22.8" text-anchor="end">11.80348</text>
<text transform="translate(1289.4 954) scale(1 1.04)" font-size="22.8" text-anchor="end">11.80296</text>
<text transform="translate(1289.4 1011.9) scale(1 1.04)" font-size="22.8" text-anchor="end">11.80244</text>
<text transform="translate(1289.4 1069.8) scale(1 1.04)" font-size="22.8" text-anchor="end">11.80192</text>
<text transform="translate(1295 1129.4) scale(1 1.04)" font-size="22.8" text-anchor="middle">0</text>
<text transform="translate(1346.7 1129.4) scale(1 1.04)" font-size="22.8" text-anchor="middle">10</text>
<text transform="translate(1398.4 1129.4) scale(1 1.04)" font-size="22.8" text-anchor="middle">20</text>
<text transform="translate(1450.1 1129.4) scale(1 1.04)" font-size="22.8" text-anchor="middle">30</text>
<text transform="translate(1501.8 1129.4) scale(1 1.04)" font-size="22.8" text-anchor="middle">40</text>
<text transform="translate(1553.5 1129.4) scale(1 1.04)" font-size="22.8" text-anchor="middle">50</text>
<text transform="translate(1605.2 1129.4) scale(1 1.04)" font-size="22.8" text-anchor="middle">60</text>
<text transform="translate(1656.9 1129.4) scale(1 1.04)" font-size="22.8" text-anchor="middle">70</text>
<text transform="translate(1708.6 1129.4) scale(1 1.04)" font-size="22.8" text-anchor="middle">80</text>
<text transform="translate(1760.3 1129.4) scale(1 1.04)" font-size="22.8" text-anchor="middle">90</text>
<path d="M1312.38 667.1h6.6v6.2h-6.6ZM1322.72 707.2h6.6v6.2h-6.6ZM1358.91 786.8h6.6v6.2h-6.6ZM1436.46 798h6.6v6.2h-6.6ZM1534.69 820.9h6.6v6.2h-6.6ZM1700.13 843.8h6.6v6.2h-6.6Z" fill="#000"/>
<polyline points="1315.68,904 1326.02,929.5 1362.21,1075.8 1439.76,985.7 1537.99,1079.5 1703.43,1079.5" fill="none" stroke="#505050" stroke-width="1.15" stroke-linejoin="round"/>
<rect x="1624.4" y="652.5" width="122.7" height="32.3" fill="#fff" stroke="#7a7a7a" stroke-width="1.1"/>
<rect x="1651.5" y="665.2" width="6.6" height="6.2" fill="#000"/>
<text transform="translate(1687.8 677) scale(1 1.04)" font-size="22.8" text-anchor="start">Expt.</text>
<rect x="1621.8" y="879.9" width="125.7" height="32.3" fill="#fff" stroke="#7a7a7a" stroke-width="1.1"/>
<path d="M1625.5 896.4H1679.2" stroke="#505050" stroke-width="1.15"/>
<text transform="translate(1684.14 904) scale(1 1.04)" font-size="22.8" text-anchor="start">Z-B-L</text>
<text transform="translate(1385.86 737.1) scale(1 1.04)" font-size="22.8" text-anchor="start">Si (3.39 MeV/u) + Z<tspan dy="3.46">2</tspan></text>
<text transform="translate(1197.86 655) scale(1 1.04)" font-size="41.5" text-anchor="start">F</text>
<path d="M150.3 1490.8V1260H615.4V1490.8M150.3 1490.8H615.4" fill="none" stroke="#1a1a1a" stroke-width="1.5" stroke-linecap="square"/>
<path d="M615.4 1490.8V1720.8" fill="none" stroke="#1a1a1a" stroke-width="1.7"/>
<path d="M150.3 1490.8V1720.8H616.25" fill="none" stroke="#000" stroke-width="2.2"/>
<path d="M150.3 1260v5.5M150.3 1490.8v-5.5M150.3 1720.8v-5.5M176.14 1260v3M176.14 1490.8v-3M176.14 1720.8v-3M201.98 1260v5.5M201.98 1490.8v-5.5M201.98 1720.8v-5.5M227.82 1260v3M227.82 1490.8v-3M227.82 1720.8v-3M253.66 1260v5.5M253.66 1490.8v-5.5M253.66 1720.8v-5.5M279.49 1260v3M279.49 1490.8v-3M279.49 1720.8v-3M305.33 1260v5.5M305.33 1490.8v-5.5M305.33 1720.8v-5.5M331.17 1260v3M331.17 1490.8v-3M331.17 1720.8v-3M357.01 1260v5.5M357.01 1490.8v-5.5M357.01 1720.8v-5.5M382.85 1260v3M382.85 1490.8v-3M382.85 1720.8v-3M408.69 1260v5.5M408.69 1490.8v-5.5M408.69 1720.8v-5.5M434.53 1260v3M434.53 1490.8v-3M434.53 1720.8v-3M460.37 1260v5.5M460.37 1490.8v-5.5M460.37 1720.8v-5.5M486.21 1260v3M486.21 1490.8v-3M486.21 1720.8v-3M512.04 1260v5.5M512.04 1490.8v-5.5M512.04 1720.8v-5.5M537.88 1260v3M537.88 1490.8v-3M537.88 1720.8v-3M563.72 1260v5.5M563.72 1490.8v-5.5M563.72 1720.8v-5.5M589.56 1260v3M589.56 1490.8v-3M589.56 1720.8v-3M615.4 1260v5.5M615.4 1490.8v-5.5M615.4 1720.8v-5.5M150.3 1259.6h3M615.4 1259.6h-3M150.3 1288.5h5.5M615.4 1288.5h-5.5M150.3 1317.4h3M615.4 1317.4h-3M150.3 1346.3h5.5M615.4 1346.3h-5.5M150.3 1375.2h3M615.4 1375.2h-3M150.3 1404.1h5.5M615.4 1404.1h-5.5M150.3 1433h3M615.4 1433h-3M150.3 1461.9h5.5M615.4 1461.9h-5.5M150.3 1490.8h3M615.4 1490.8h-3M150.3 1519h5.5M615.4 1519h-5.5M150.3 1547.9h3M615.4 1547.9h-3M150.3 1576.8h5.5M615.4 1576.8h-5.5M150.3 1605.7h3M615.4 1605.7h-3M150.3 1634.6h5.5M615.4 1634.6h-5.5M150.3 1663.5h3M615.4 1663.5h-3M150.3 1692.4h5.5M615.4 1692.4h-5.5M150.3 1721.3h3M615.4 1721.3h-3" fill="none" stroke="#1a1a1a" stroke-width="1.4"/>
<text transform="translate(144.7 1296) scale(1 1.04)" font-size="22.8" text-anchor="end">13.12</text>
<text transform="translate(144.7 1353.8) scale(1 1.04)" font-size="22.8" text-anchor="end">12.71</text>
<text transform="translate(144.7 1411.6) scale(1 1.04)" font-size="22.8" text-anchor="end">12.30</text>
<text transform="translate(144.7 1469.4) scale(1 1.04)" font-size="22.8" text-anchor="end">11.89</text>
<text transform="translate(144.7 1526.5) scale(1 1.04)" font-size="22.8" text-anchor="end">12.09789</text>
<text transform="translate(144.7 1584.3) scale(1 1.04)" font-size="22.8" text-anchor="end">12.09726</text>
<text transform="translate(144.7 1642.1) scale(1 1.04)" font-size="22.8" text-anchor="end">12.09663</text>
<text transform="translate(144.7 1699.9) scale(1 1.04)" font-size="22.8" text-anchor="end">12.09600</text>
<text transform="translate(150.3 1745.1) scale(1 1.04)" font-size="22.8" text-anchor="middle">0</text>
<text transform="translate(201.98 1745.1) scale(1 1.04)" font-size="22.8" text-anchor="middle">10</text>
<text transform="translate(253.66 1745.1) scale(1 1.04)" font-size="22.8" text-anchor="middle">20</text>
<text transform="translate(305.33 1745.1) scale(1 1.04)" font-size="22.8" text-anchor="middle">30</text>
<text transform="translate(357.01 1745.1) scale(1 1.04)" font-size="22.8" text-anchor="middle">40</text>
<text transform="translate(408.69 1745.1) scale(1 1.04)" font-size="22.8" text-anchor="middle">50</text>
<text transform="translate(460.37 1745.1) scale(1 1.04)" font-size="22.8" text-anchor="middle">60</text>
<text transform="translate(512.04 1745.1) scale(1 1.04)" font-size="22.8" text-anchor="middle">70</text>
<text transform="translate(563.72 1745.1) scale(1 1.04)" font-size="22.8" text-anchor="middle">80</text>
<text transform="translate(615.4 1745.1) scale(1 1.04)" font-size="22.8" text-anchor="middle">90</text>
<path d="M167.67 1274.2h6.6v6.2h-6.6ZM178.01 1302.7h6.6v6.2h-6.6ZM209.01 1401h6.6v6.2h-6.6ZM214.18 1401h6.6v6.2h-6.6ZM260.69 1386.8h6.6v6.2h-6.6ZM271.03 1401h6.6v6.2h-6.6ZM281.36 1406.3h6.6v6.2h-6.6ZM291.7 1426.5h6.6v6.2h-6.6ZM296.87 1428.8h6.6v6.2h-6.6ZM312.37 1442.7h6.6v6.2h-6.6ZM322.7 1442.7h6.6v6.2h-6.6ZM353.71 1442.7h6.6v6.2h-6.6ZM364.05 1442.7h6.6v6.2h-6.6ZM389.89 1457.3h6.6v6.2h-6.6ZM405.39 1442.7h6.6v6.2h-6.6ZM415.72 1442.7h6.6v6.2h-6.6ZM467.4 1414.9h6.6v6.2h-6.6ZM508.74 1442.7h6.6v6.2h-6.6ZM555.25 1470.8h6.6v6.2h-6.6ZM570.76 1457.3h6.6v6.2h-6.6ZM575.93 1457.3h6.6v6.2h-6.6Z" fill="#000"/>
<polyline points="170.97,1508.4 181.31,1524.83 212.31,1657.45 217.48,1622.6 263.99,1628.02 274.33,1577.84 284.66,1574.77 295,1562.97 300.17,1575.2 315.67,1653.04 326,1673.55 357.01,1659.87 367.35,1612.02 393.19,1624.93 408.69,1674.2 419.02,1691.29 470.7,1691.12 512.04,1705.4 558.55,1625.6 574.06,1682.9 579.23,1695.47" fill="none" stroke="#505050" stroke-width="1.15" stroke-linejoin="round"/>
<rect x="480.3" y="1267.5" width="122" height="32.7" fill="#fff" stroke="#7a7a7a" stroke-width="1.1"/>
<rect x="507" y="1280.6" width="6.6" height="6.2" fill="#000"/>
<text transform="translate(543.3 1292.3) scale(1 1.04)" font-size="22.8" text-anchor="start">Expt.</text>
<rect x="480.3" y="1497.2" width="125.7" height="33" fill="#fff" stroke="#7a7a7a" stroke-width="1.1"/>
<path d="M484 1514H537.3" stroke="#505050" stroke-width="1.15"/>
<text transform="translate(542.34 1521.8) scale(1 1.04)" font-size="22.8" text-anchor="start">Z-B-L</text>
<text transform="translate(228.96 1296.2) scale(1 1.04)" font-size="22.8" text-anchor="start">Si (3.93 MeV/u) + Z<tspan dy="3.27">2</tspan></text>
<text transform="translate(33.9 1258.8) scale(1 1.04)" font-size="41.5" text-anchor="start">G</text>
<path d="M722.7 1490.8V1260H1187.6V1490.8M722.7 1490.8H1187.6" fill="none" stroke="#1a1a1a" stroke-width="1.5" stroke-linecap="square"/>
<path d="M1187.6 1490.8V1720.8" fill="none" stroke="#1a1a1a" stroke-width="1.7"/>
<path d="M722.7 1490.8V1720.8H1188.45" fill="none" stroke="#000" stroke-width="2.2"/>
<path d="M722.7 1260v5.5M722.7 1490.8v-5.5M722.7 1720.8v-5.5M748.53 1260v3M748.53 1490.8v-3M748.53 1720.8v-3M774.36 1260v5.5M774.36 1490.8v-5.5M774.36 1720.8v-5.5M800.18 1260v3M800.18 1490.8v-3M800.18 1720.8v-3M826.01 1260v5.5M826.01 1490.8v-5.5M826.01 1720.8v-5.5M851.84 1260v3M851.84 1490.8v-3M851.84 1720.8v-3M877.67 1260v5.5M877.67 1490.8v-5.5M877.67 1720.8v-5.5M903.49 1260v3M903.49 1490.8v-3M903.49 1720.8v-3M929.32 1260v5.5M929.32 1490.8v-5.5M929.32 1720.8v-5.5M955.15 1260v3M955.15 1490.8v-3M955.15 1720.8v-3M980.98 1260v5.5M980.98 1490.8v-5.5M980.98 1720.8v-5.5M1006.81 1260v3M1006.81 1490.8v-3M1006.81 1720.8v-3M1032.63 1260v5.5M1032.63 1490.8v-5.5M1032.63 1720.8v-5.5M1058.46 1260v3M1058.46 1490.8v-3M1058.46 1720.8v-3M1084.29 1260v5.5M1084.29 1490.8v-5.5M1084.29 1720.8v-5.5M1110.12 1260v3M1110.12 1490.8v-3M1110.12 1720.8v-3M1135.94 1260v5.5M1135.94 1490.8v-5.5M1135.94 1720.8v-5.5M1161.77 1260v3M1161.77 1490.8v-3M1161.77 1720.8v-3M1187.6 1260v5.5M1187.6 1490.8v-5.5M1187.6 1720.8v-5.5M722.7 1273.2h5.5M1187.6 1273.2h-5.5M722.7 1301.9h3M1187.6 1301.9h-3M722.7 1330.6h5.5M1187.6 1330.6h-5.5M722.7 1359.3h3M1187.6 1359.3h-3M722.7 1388h5.5M1187.6 1388h-5.5M722.7 1416.7h3M1187.6 1416.7h-3M722.7 1445.4h5.5M1187.6 1445.4h-5.5M722.7 1474.1h3M1187.6 1474.1h-3M722.7 1513.7h5.5M1187.6 1513.7h-5.5M722.7 1543.1h3M1187.6 1543.1h-3M722.7 1572.5h5.5M1187.6 1572.5h-5.5M722.7 1601.9h3M1187.6 1601.9h-3M722.7 1631.3h5.5M1187.6 1631.3h-5.5M722.7 1660.7h3M1187.6 1660.7h-3M722.7 1690.1h5.5M1187.6 1690.1h-5.5M722.7 1719.5h3M1187.6 1719.5h-3" fill="none" stroke="#1a1a1a" stroke-width="1.4"/>
<text transform="translate(717.1 1280.7) scale(1 1.04)" font-size="22.8" text-anchor="end">13.68</text>
<text transform="translate(717.1 1338.1) scale(1 1.04)" font-size="22.8" text-anchor="end">13.30</text>
<text transform="translate(717.1 1395.5) scale(1 1.04)" font-size="22.8" text-anchor="end">12.92</text>
<text transform="translate(717.1 1452.9) scale(1 1.04)" font-size="22.8" text-anchor="end">12.54</text>
<text transform="translate(717.1 1521.2) scale(1 1.04)" font-size="22.8" text-anchor="end">11.9991</text>
<text transform="translate(717.1 1580) scale(1 1.04)" font-size="22.8" text-anchor="end">11.9968</text>
<text transform="translate(717.1 1638.8) scale(1 1.04)" font-size="22.8" text-anchor="end">11.9945</text>
<text transform="translate(717.1 1697.6) scale(1 1.04)" font-size="22.8" text-anchor="end">11.9922</text>
<text transform="translate(722.7 1745.1) scale(1 1.04)" font-size="22.8" text-anchor="middle">0</text>
<text transform="translate(774.36 1745.1) scale(1 1.04)" font-size="22.8" text-anchor="middle">10</text>
<text transform="translate(826.01 1745.1) scale(1 1.04)" font-size="22.8" text-anchor="middle">20</text>
<text transform="translate(877.67 1745.1) scale(1 1.04)" font-size="22.8" text-anchor="middle">30</text>
<text transform="translate(929.32 1745.1) scale(1 1.04)" font-size="22.8" text-anchor="middle">40</text>
<text transform="translate(980.98 1745.1) scale(1 1.04)" font-size="22.8" text-anchor="middle">50</text>
<text transform="translate(1032.63 1745.1) scale(1 1.04)" font-size="22.8" text-anchor="middle">60</text>
<text transform="translate(1084.29 1745.1) scale(1 1.04)" font-size="22.8" text-anchor="middle">70</text>
<text transform="translate(1135.94 1745.1) scale(1 1.04)" font-size="22.8" text-anchor="middle">80</text>
<text transform="translate(1187.6 1745.1) scale(1 1.04)" font-size="22.8" text-anchor="middle">90</text>
<path d="M740.06 1294.5h6.6v6.2h-6.6ZM750.39 1324.5h6.6v6.2h-6.6ZM781.39 1350h6.6v6.2h-6.6ZM786.55 1354.5h6.6v6.2h-6.6ZM833.04 1393.9h6.6v6.2h-6.6ZM843.37 1380h6.6v6.2h-6.6ZM853.7 1372.9h6.6v6.2h-6.6ZM864.04 1377h6.6v6.2h-6.6ZM869.2 1380h6.6v6.2h-6.6ZM884.7 1398.4h6.6v6.2h-6.6ZM895.03 1431.4h6.6v6.2h-6.6ZM926.02 1435.9h6.6v6.2h-6.6ZM936.35 1434.8h6.6v6.2h-6.6ZM962.18 1434.8h6.6v6.2h-6.6ZM977.68 1377h6.6v6.2h-6.6ZM988.01 1380h6.6v6.2h-6.6ZM1039.66 1356h6.6v6.2h-6.6ZM1080.99 1430.3h6.6v6.2h-6.6ZM1127.48 1470.4h6.6v6.2h-6.6ZM1142.98 1455.8h6.6v6.2h-6.6ZM1148.14 1469.3h6.6v6.2h-6.6Z" fill="#000"/>
<polyline points="743.36,1518.2 753.69,1533.22 784.69,1654.46 789.85,1622.6 836.34,1627.56 846.67,1581.69 857,1578.88 867.34,1568.09 872.5,1579.27 888,1650.43 898.33,1669.18 929.32,1656.68 939.65,1612.93 965.48,1624.73 980.98,1669.77 991.31,1685.4 1042.96,1685.24 1084.29,1698.3 1130.78,1625.34 1146.28,1677.73 1151.44,1689.22" fill="none" stroke="#505050" stroke-width="1.15" stroke-linejoin="round"/>
<rect x="1052.2" y="1264.5" width="122.7" height="32.3" fill="#fff" stroke="#7a7a7a" stroke-width="1.1"/>
<rect x="1079.6" y="1277.9" width="6.6" height="6.2" fill="#000"/>
<text transform="translate(1115.6 1289.5) scale(1 1.04)" font-size="22.8" text-anchor="start">Expt.</text>
<rect x="1041.7" y="1495.3" width="133.2" height="32.3" fill="#fff" stroke="#7a7a7a" stroke-width="1.1"/>
<path d="M1045.4 1512.2H1099" stroke="#505050" stroke-width="1.15"/>
<text transform="translate(1104.04 1520) scale(1 1.04)" font-size="22.8" text-anchor="start">Z-B--L</text>
<text transform="translate(784.77 1289) scale(1 1.04)" font-size="22.8" text-anchor="start">Cl (1.94 MeV/u) + Z<tspan dy="3.65">2</tspan></text>
<text transform="translate(633.66 1258.2) scale(1 1.04)" font-size="41.5" text-anchor="start">H</text>
<path d="M1295 1490.8V1260H1760.3V1490.8M1295 1490.8H1760.3" fill="none" stroke="#1a1a1a" stroke-width="1.5" stroke-linecap="square"/>
<path d="M1760.3 1490.8V1720.8" fill="none" stroke="#1a1a1a" stroke-width="1.7"/>
<path d="M1295 1490.8V1720.8H1761.15" fill="none" stroke="#000" stroke-width="2.2"/>
<path d="M1295 1260v5.5M1295 1490.8v-5.5M1295 1720.8v-5.5M1320.85 1260v3M1320.85 1490.8v-3M1320.85 1720.8v-3M1346.7 1260v5.5M1346.7 1490.8v-5.5M1346.7 1720.8v-5.5M1372.55 1260v3M1372.55 1490.8v-3M1372.55 1720.8v-3M1398.4 1260v5.5M1398.4 1490.8v-5.5M1398.4 1720.8v-5.5M1424.25 1260v3M1424.25 1490.8v-3M1424.25 1720.8v-3M1450.1 1260v5.5M1450.1 1490.8v-5.5M1450.1 1720.8v-5.5M1475.95 1260v3M1475.95 1490.8v-3M1475.95 1720.8v-3M1501.8 1260v5.5M1501.8 1490.8v-5.5M1501.8 1720.8v-5.5M1527.65 1260v3M1527.65 1490.8v-3M1527.65 1720.8v-3M1553.5 1260v5.5M1553.5 1490.8v-5.5M1553.5 1720.8v-5.5M1579.35 1260v3M1579.35 1490.8v-3M1579.35 1720.8v-3M1605.2 1260v5.5M1605.2 1490.8v-5.5M1605.2 1720.8v-5.5M1631.05 1260v3M1631.05 1490.8v-3M1631.05 1720.8v-3M1656.9 1260v5.5M1656.9 1490.8v-5.5M1656.9 1720.8v-5.5M1682.75 1260v3M1682.75 1490.8v-3M1682.75 1720.8v-3M1708.6 1260v5.5M1708.6 1490.8v-5.5M1708.6 1720.8v-5.5M1734.45 1260v3M1734.45 1490.8v-3M1734.45 1720.8v-3M1760.3 1260v5.5M1760.3 1490.8v-5.5M1760.3 1720.8v-5.5M1295 1285.2h5.5M1760.3 1285.2h-5.5M1295 1314.05h3M1760.3 1314.05h-3M1295 1342.9h5.5M1760.3 1342.9h-5.5M1295 1371.75h3M1760.3 1371.75h-3M1295 1400.6h5.5M1760.3 1400.6h-5.5M1295 1429.45h3M1760.3 1429.45h-3M1295 1458.3h5.5M1760.3 1458.3h-5.5M1295 1487.15h3M1760.3 1487.15h-3M1295 1496.9h3M1760.3 1496.9h-3M1295 1524.6h5.5M1760.3 1524.6h-5.5M1295 1552.3h3M1760.3 1552.3h-3M1295 1580h5.5M1760.3 1580h-5.5M1295 1607.7h3M1760.3 1607.7h-3M1295 1635.4h5.5M1760.3 1635.4h-5.5M1295 1663.1h3M1760.3 1663.1h-3M1295 1690.8h5.5M1760.3 1690.8h-5.5M1295 1718.5h3M1760.3 1718.5h-3" fill="none" stroke="#1a1a1a" stroke-width="1.4"/>
<text transform="translate(1289.4 1292.7) scale(1 1.04)" font-size="22.8" text-anchor="end">15.12</text>
<text transform="translate(1289.4 1350.4) scale(1 1.04)" font-size="22.8" text-anchor="end">14.58</text>
<text transform="translate(1289.4 1408.1) scale(1 1.04)" font-size="22.8" text-anchor="end">14.04</text>
<text transform="translate(1289.4 1465.8) scale(1 1.04)" font-size="22.8" text-anchor="end">13.50</text>
<text transform="translate(1289.4 1532.1) scale(1 1.04)" font-size="22.8" text-anchor="end">13.3822</text>
<text transform="translate(1289.4 1587.5) scale(1 1.04)" font-size="22.8" text-anchor="end">13.3809</text>
<text transform="translate(1289.4 1642.9) scale(1 1.04)" font-size="22.8" text-anchor="end">13.3796</text>
<text transform="translate(1289.4 1698.3) scale(1 1.04)" font-size="22.8" text-anchor="end">13.3783</text>
<text transform="translate(1295 1745.1) scale(1 1.04)" font-size="22.8" text-anchor="middle">0</text>
<text transform="translate(1346.7 1745.1) scale(1 1.04)" font-size="22.8" text-anchor="middle">10</text>
<text transform="translate(1398.4 1745.1) scale(1 1.04)" font-size="22.8" text-anchor="middle">20</text>
<text transform="translate(1450.1 1745.1) scale(1 1.04)" font-size="22.8" text-anchor="middle">30</text>
<text transform="translate(1501.8 1745.1) scale(1 1.04)" font-size="22.8" text-anchor="middle">40</text>
<text transform="translate(1553.5 1745.1) scale(1 1.04)" font-size="22.8" text-anchor="middle">50</text>
<text transform="translate(1605.2 1745.1) scale(1 1.04)" font-size="22.8" text-anchor="middle">60</text>
<text transform="translate(1656.9 1745.1) scale(1 1.04)" font-size="22.8" text-anchor="middle">70</text>
<text transform="translate(1708.6 1745.1) scale(1 1.04)" font-size="22.8" text-anchor="middle">80</text>
<text transform="translate(1760.3 1745.1) scale(1 1.04)" font-size="22.8" text-anchor="middle">90</text>
<path d="M1312.38 1288.4h6.6v6.2h-6.6ZM1322.72 1322.6h6.6v6.2h-6.6ZM1353.74 1375.1h6.6v6.2h-6.6ZM1358.91 1378.1h6.6v6.2h-6.6ZM1405.44 1404h6.6v6.2h-6.6ZM1415.78 1399.5h6.6v6.2h-6.6ZM1426.12 1406.3h6.6v6.2h-6.6ZM1436.46 1407h6.6v6.2h-6.6ZM1441.63 1407h6.6v6.2h-6.6ZM1457.14 1417.9h6.6v6.2h-6.6ZM1467.48 1427.3h6.6v6.2h-6.6ZM1498.5 1435.2h6.6v6.2h-6.6ZM1508.84 1437h6.6v6.2h-6.6ZM1534.69 1449.8h6.6v6.2h-6.6ZM1550.2 1433.7h6.6v6.2h-6.6ZM1560.54 1433.7h6.6v6.2h-6.6ZM1612.24 1399.5h6.6v6.2h-6.6ZM1653.6 1427.3h6.6v6.2h-6.6ZM1700.13 1459.2h6.6v6.2h-6.6ZM1715.64 1449.8h6.6v6.2h-6.6ZM1720.81 1464.8h6.6v6.2h-6.6Z" fill="#000"/>
<polyline points="1315.68,1515.2 1326.02,1529.44 1357.04,1644.35 1362.21,1614.15 1408.74,1618.85 1419.08,1575.37 1429.42,1572.71 1439.76,1562.48 1444.93,1573.08 1460.44,1640.53 1470.78,1658.3 1501.8,1646.45 1512.14,1604.99 1537.99,1616.17 1553.5,1658.86 1563.84,1673.68 1615.54,1673.52 1656.9,1685.9 1703.43,1616.75 1718.94,1666.41 1724.11,1677.3" fill="none" stroke="#505050" stroke-width="1.15" stroke-linejoin="round"/>
<rect x="1621" y="1267.5" width="123.1" height="32.7" fill="#fff" stroke="#7a7a7a" stroke-width="1.1"/>
<rect x="1648.5" y="1280.6" width="6.6" height="6.2" fill="#000"/>
<text transform="translate(1684.5 1292.3) scale(1 1.04)" font-size="22.8" text-anchor="start">Expt.</text>
<rect x="1613.5" y="1497.6" width="126.1" height="32.6" fill="#fff" stroke="#7a7a7a" stroke-width="1.1"/>
<path d="M1617.3 1514H1671" stroke="#505050" stroke-width="1.15"/>
<text transform="translate(1675.94 1521.8) scale(1 1.04)" font-size="22.8" text-anchor="start">Z-B-L</text>
<text transform="translate(1367.57 1292.8) scale(1 1.04)" font-size="22.8" text-anchor="start">Cl (3.08 MeV/u) + Z<tspan dy="3.46">2</tspan></text>
<text transform="translate(1197.26 1257.4) scale(1 1.04)" font-size="41.5" text-anchor="start">I</text>
<path d="M150.3 2105.7V1875.6H615.4V2105.7M150.3 2105.7H615.4" fill="none" stroke="#1a1a1a" stroke-width="1.5" stroke-linecap="square"/>
<path d="M615.4 2105.7V2336.1" fill="none" stroke="#1a1a1a" stroke-width="1.7"/>
<path d="M150.3 2105.7V2336.1H616.25" fill="none" stroke="#000" stroke-width="2.2"/>
<path d="M150.3 1875.6v5.5M150.3 2105.7v-5.5M150.3 2336.1v-5.5M176.14 1875.6v3M176.14 2105.7v-3M176.14 2336.1v-3M201.98 1875.6v5.5M201.98 2105.7v-5.5M201.98 2336.1v-5.5M227.82 1875.6v3M227.82 2105.7v-3M227.82 2336.1v-3M253.66 1875.6v5.5M253.66 2105.7v-5.5M253.66 2336.1v-5.5M279.49 1875.6v3M279.49 2105.7v-3M279.49 2336.1v-3M305.33 1875.6v5.5M305.33 2105.7v-5.5M305.33 2336.1v-5.5M331.17 1875.6v3M331.17 2105.7v-3M331.17 2336.1v-3M357.01 1875.6v5.5M357.01 2105.7v-5.5M357.01 2336.1v-5.5M382.85 1875.6v3M382.85 2105.7v-3M382.85 2336.1v-3M408.69 1875.6v5.5M408.69 2105.7v-5.5M408.69 2336.1v-5.5M434.53 1875.6v3M434.53 2105.7v-3M434.53 2336.1v-3M460.37 1875.6v5.5M460.37 2105.7v-5.5M460.37 2336.1v-5.5M486.21 1875.6v3M486.21 2105.7v-3M486.21 2336.1v-3M512.04 1875.6v5.5M512.04 2105.7v-5.5M512.04 2336.1v-5.5M537.88 1875.6v3M537.88 2105.7v-3M537.88 2336.1v-3M563.72 1875.6v5.5M563.72 2105.7v-5.5M563.72 2336.1v-5.5M589.56 1875.6v3M589.56 2105.7v-3M589.56 2336.1v-3M615.4 1875.6v5.5M615.4 2105.7v-5.5M615.4 2336.1v-5.5M150.3 1879.4h5.5M615.4 1879.4h-5.5M150.3 1908h3M615.4 1908h-3M150.3 1936.6h5.5M615.4 1936.6h-5.5M150.3 1965.2h3M615.4 1965.2h-3M150.3 1993.8h5.5M615.4 1993.8h-5.5M150.3 2022.4h3M615.4 2022.4h-3M150.3 2051h5.5M615.4 2051h-5.5M150.3 2079.6h3M615.4 2079.6h-3M150.3 2111.65h3M615.4 2111.65h-3M150.3 2139.4h5.5M615.4 2139.4h-5.5M150.3 2167.15h3M615.4 2167.15h-3M150.3 2194.9h5.5M615.4 2194.9h-5.5M150.3 2222.65h3M615.4 2222.65h-3M150.3 2250.4h5.5M615.4 2250.4h-5.5M150.3 2278.15h3M615.4 2278.15h-3M150.3 2305.9h5.5M615.4 2305.9h-5.5M150.3 2333.65h3M615.4 2333.65h-3" fill="none" stroke="#1a1a1a" stroke-width="1.4"/>
<text transform="translate(144.7 1886.9) scale(1 1.04)" font-size="22.8" text-anchor="end">7.77</text>
<text transform="translate(144.7 1944.1) scale(1 1.04)" font-size="22.8" text-anchor="end">7.56</text>
<text transform="translate(144.7 2001.3) scale(1 1.04)" font-size="22.8" text-anchor="end">7.35</text>
<text transform="translate(144.7 2058.5) scale(1 1.04)" font-size="22.8" text-anchor="end">7.14</text>
<text transform="translate(144.7 2146.9) scale(1 1.04)" font-size="22.8" text-anchor="end">7.2748</text>
<text transform="translate(144.7 2202.4) scale(1 1.04)" font-size="22.8" text-anchor="end">7.2735</text>
<text transform="translate(144.7 2257.9) scale(1 1.04)" font-size="22.8" text-anchor="end">7.2722</text>
<text transform="translate(144.7 2313.4) scale(1 1.04)" font-size="22.8" text-anchor="end">7.2709</text>
<text transform="translate(150.3 2360.1) scale(1 1.04)" font-size="22.8" text-anchor="middle">0</text>
<text transform="translate(201.98 2360.1) scale(1 1.04)" font-size="22.8" text-anchor="middle">10</text>
<text transform="translate(253.66 2360.1) scale(1 1.04)" font-size="22.8" text-anchor="middle">20</text>
<text transform="translate(305.33 2360.1) scale(1 1.04)" font-size="22.8" text-anchor="middle">30</text>
<text transform="translate(357.01 2360.1) scale(1 1.04)" font-size="22.8" text-anchor="middle">40</text>
<text transform="translate(408.69 2360.1) scale(1 1.04)" font-size="22.8" text-anchor="middle">50</text>
<text transform="translate(460.37 2360.1) scale(1 1.04)" font-size="22.8" text-anchor="middle">60</text>
<text transform="translate(512.04 2360.1) scale(1 1.04)" font-size="22.8" text-anchor="middle">70</text>
<text transform="translate(563.72 2360.1) scale(1 1.04)" font-size="22.8" text-anchor="middle">80</text>
<text transform="translate(615.4 2360.1) scale(1 1.04)" font-size="22.8" text-anchor="middle">90</text>
<path d="M167.67 1886.8h6.6v6.2h-6.6ZM178.01 1984.4h6.6v6.2h-6.6ZM209.01 1992.2h6.6v6.2h-6.6ZM214.18 2032.8h6.6v6.2h-6.6ZM260.69 2048.9h6.6v6.2h-6.6ZM271.03 2048.9h6.6v6.2h-6.6ZM281.36 2032.8h6.6v6.2h-6.6ZM291.7 2032.8h6.6v6.2h-6.6ZM296.87 2048.9h6.6v6.2h-6.6ZM312.37 2057.5h6.6v6.2h-6.6ZM322.7 2057.5h6.6v6.2h-6.6ZM353.71 2041h6.6v6.2h-6.6ZM364.05 2041h6.6v6.2h-6.6ZM389.89 2057.5h6.6v6.2h-6.6ZM405.39 2041h6.6v6.2h-6.6ZM415.72 2041h6.6v6.2h-6.6ZM467.4 2008.8h6.6v6.2h-6.6ZM508.74 2032.8h6.6v6.2h-6.6ZM555.25 2065.4h6.6v6.2h-6.6ZM570.76 2048.9h6.6v6.2h-6.6ZM575.93 2065.4h6.6v6.2h-6.6Z" fill="#000"/>
<polyline points="170.97,2128.2 181.31,2143.06 212.31,2263.03 217.48,2231.5 263.99,2236.4 274.33,2191.02 284.66,2188.24 295,2177.56 300.17,2188.63 315.67,2259.03 326,2277.59 357.01,2265.22 367.35,2221.93 393.19,2233.61 408.69,2278.17 419.02,2293.64 470.7,2293.48 512.04,2306.4 558.55,2234.21 574.06,2286.05 579.23,2297.42" fill="none" stroke="#505050" stroke-width="1.15" stroke-linejoin="round"/>
<rect x="477.3" y="1887.7" width="122.3" height="32.2" fill="#fff" stroke="#7a7a7a" stroke-width="1.1"/>
<rect x="504" y="1900.7" width="6.6" height="6.2" fill="#000"/>
<text transform="translate(540 1912.4) scale(1 1.04)" font-size="22.8" text-anchor="start">Expt.</text>
<rect x="472" y="2118.4" width="125.4" height="32.3" fill="#fff" stroke="#7a7a7a" stroke-width="1.1"/>
<path d="M475.8 2135H529.1" stroke="#505050" stroke-width="1.15"/>
<text transform="translate(534.04 2142.8) scale(1 1.04)" font-size="22.8" text-anchor="start">Z-B-L</text>
<text transform="translate(244.3 1909.7) scale(1 1.04)" font-size="22.8" text-anchor="start">F (1.5 MeV/u) + Z<tspan dy="3.85">2</tspan></text>
<text transform="translate(34.28 1882) scale(1 1.04)" font-size="41.5" text-anchor="start">J</text>
<path d="M722.7 2105.7V1875.6H1187.6V2105.7M722.7 2105.7H1187.6" fill="none" stroke="#1a1a1a" stroke-width="1.5" stroke-linecap="square"/>
<path d="M1187.6 2105.7V2336.1" fill="none" stroke="#1a1a1a" stroke-width="1.7"/>
<path d="M722.7 2105.7V2336.1H1188.45" fill="none" stroke="#000" stroke-width="2.2"/>
<path d="M722.7 1875.6v5.5M722.7 2105.7v-5.5M722.7 2336.1v-5.5M748.53 1875.6v3M748.53 2105.7v-3M748.53 2336.1v-3M774.36 1875.6v5.5M774.36 2105.7v-5.5M774.36 2336.1v-5.5M800.18 1875.6v3M800.18 2105.7v-3M800.18 2336.1v-3M826.01 1875.6v5.5M826.01 2105.7v-5.5M826.01 2336.1v-5.5M851.84 1875.6v3M851.84 2105.7v-3M851.84 2336.1v-3M877.67 1875.6v5.5M877.67 2105.7v-5.5M877.67 2336.1v-5.5M903.49 1875.6v3M903.49 2105.7v-3M903.49 2336.1v-3M929.32 1875.6v5.5M929.32 2105.7v-5.5M929.32 2336.1v-5.5M955.15 1875.6v3M955.15 2105.7v-3M955.15 2336.1v-3M980.98 1875.6v5.5M980.98 2105.7v-5.5M980.98 2336.1v-5.5M1006.81 1875.6v3M1006.81 2105.7v-3M1006.81 2336.1v-3M1032.63 1875.6v5.5M1032.63 2105.7v-5.5M1032.63 2336.1v-5.5M1058.46 1875.6v3M1058.46 2105.7v-3M1058.46 2336.1v-3M1084.29 1875.6v5.5M1084.29 2105.7v-5.5M1084.29 2336.1v-5.5M1110.12 1875.6v3M1110.12 2105.7v-3M1110.12 2336.1v-3M1135.94 1875.6v5.5M1135.94 2105.7v-5.5M1135.94 2336.1v-5.5M1161.77 1875.6v3M1161.77 2105.7v-3M1161.77 2336.1v-3M1187.6 1875.6v5.5M1187.6 2105.7v-5.5M1187.6 2336.1v-5.5M722.7 1883.2h3M1187.6 1883.2h-3M722.7 1911.7h5.5M1187.6 1911.7h-5.5M722.7 1940.2h3M1187.6 1940.2h-3M722.7 1968.7h5.5M1187.6 1968.7h-5.5M722.7 1997.2h3M1187.6 1997.2h-3M722.7 2025.7h5.5M1187.6 2025.7h-5.5M722.7 2054.2h3M1187.6 2054.2h-3M722.7 2082.7h5.5M1187.6 2082.7h-5.5M722.7 2118.8h5.5M1187.6 2118.8h-5.5M722.7 2147.55h3M1187.6 2147.55h-3M722.7 2176.3h5.5M1187.6 2176.3h-5.5M722.7 2205.05h3M1187.6 2205.05h-3M722.7 2233.8h5.5M1187.6 2233.8h-5.5M722.7 2262.55h3M1187.6 2262.55h-3M722.7 2291.3h5.5M1187.6 2291.3h-5.5M722.7 2320.05h3M1187.6 2320.05h-3" fill="none" stroke="#1a1a1a" stroke-width="1.4"/>
<text transform="translate(717.1 1919.2) scale(1 1.04)" font-size="22.8" text-anchor="end">8.6</text>
<text transform="translate(717.1 1976.2) scale(1 1.04)" font-size="22.8" text-anchor="end">8.4</text>
<text transform="translate(717.1 2033.2) scale(1 1.04)" font-size="22.8" text-anchor="end">8.2</text>
<text transform="translate(717.1 2090.2) scale(1 1.04)" font-size="22.8" text-anchor="end">8.0</text>
<text transform="translate(717.1 2126.3) scale(1 1.04)" font-size="22.8" text-anchor="end">8.18317</text>
<text transform="translate(717.1 2183.8) scale(1 1.04)" font-size="22.8" text-anchor="end">8.18270</text>
<text transform="translate(717.1 2241.3) scale(1 1.04)" font-size="22.8" text-anchor="end">8.18223</text>
<text transform="translate(717.1 2298.8) scale(1 1.04)" font-size="22.8" text-anchor="end">8.18176</text>
<text transform="translate(722.7 2360.1) scale(1 1.04)" font-size="22.8" text-anchor="middle">0</text>
<text transform="translate(774.36 2360.1) scale(1 1.04)" font-size="22.8" text-anchor="middle">10</text>
<text transform="translate(826.01 2360.1) scale(1 1.04)" font-size="22.8" text-anchor="middle">20</text>
<text transform="translate(877.67 2360.1) scale(1 1.04)" font-size="22.8" text-anchor="middle">30</text>
<text transform="translate(929.32 2360.1) scale(1 1.04)" font-size="22.8" text-anchor="middle">40</text>
<text transform="translate(980.98 2360.1) scale(1 1.04)" font-size="22.8" text-anchor="middle">50</text>
<text transform="translate(1032.63 2360.1) scale(1 1.04)" font-size="22.8" text-anchor="middle">60</text>
<text transform="translate(1084.29 2360.1) scale(1 1.04)" font-size="22.8" text-anchor="middle">70</text>
<text transform="translate(1135.94 2360.1) scale(1 1.04)" font-size="22.8" text-anchor="middle">80</text>
<text transform="translate(1187.6 2360.1) scale(1 1.04)" font-size="22.8" text-anchor="middle">90</text>
<path d="M740.06 1908.6h6.6v6.2h-6.6ZM750.39 1970.1h6.6v6.2h-6.6ZM781.39 2012.5h6.6v6.2h-6.6ZM786.55 2012.1h6.6v6.2h-6.6ZM833.04 2045.9h6.6v6.2h-6.6ZM843.37 2053.8h6.6v6.2h-6.6ZM853.7 2053.8h6.6v6.2h-6.6ZM864.04 2070.3h6.6v6.2h-6.6ZM869.2 2070.3h6.6v6.2h-6.6ZM884.7 2070.3h6.6v6.2h-6.6ZM895.03 2059.8h6.6v6.2h-6.6ZM926.02 2059.8h6.6v6.2h-6.6ZM936.35 2050.8h6.6v6.2h-6.6ZM962.18 2066.9h6.6v6.2h-6.6ZM977.68 2084.2h6.6v6.2h-6.6ZM988.01 2084.2h6.6v6.2h-6.6ZM1039.66 2047h6.6v6.2h-6.6ZM1080.99 2036.5h6.6v6.2h-6.6ZM1127.48 2078.2h6.6v6.2h-6.6ZM1142.98 2077.4h6.6v6.2h-6.6ZM1148.14 2077.4h6.6v6.2h-6.6Z" fill="#000"/>
<polyline points="743.36,2137.2 753.69,2151.9 784.69,2270.59 789.85,2239.4 836.34,2244.25 846.67,2199.35 857,2196.6 867.34,2186.04 872.5,2196.98 888,2266.64 898.33,2284.99 929.32,2272.76 939.65,2229.93 965.48,2241.48 980.98,2285.57 991.31,2300.88 1042.96,2300.72 1084.29,2313.5 1130.78,2242.08 1146.28,2293.37 1151.44,2304.61" fill="none" stroke="#505050" stroke-width="1.15" stroke-linejoin="round"/>
<rect x="1046.2" y="1885" width="123" height="33" fill="#fff" stroke="#7a7a7a" stroke-width="1.1"/>
<rect x="1073.3" y="1898.1" width="6.6" height="6.2" fill="#000"/>
<text transform="translate(1109.6 1909.8) scale(1 1.04)" font-size="22.8" text-anchor="start">Expt.</text>
<rect x="1043.9" y="2115.8" width="126.5" height="32.6" fill="#fff" stroke="#7a7a7a" stroke-width="1.1"/>
<path d="M1047.6 2132.3H1101.7" stroke="#505050" stroke-width="1.15"/>
<text transform="translate(1105.94 2140.2) scale(1 1.04)" font-size="22.8" text-anchor="start">Z-B-L</text>
<text transform="translate(806 1908.6) scale(1 1.04)" font-size="22.8" text-anchor="start">F (3.10 MeV/u) + Z<tspan dy="3.17">2</tspan></text>
<text transform="translate(633.66 1882.4) scale(1 1.04)" font-size="41.5" text-anchor="start">K</text>
<path d="M1295 2105.7V1875.6H1760.3V2105.7M1295 2105.7H1760.3" fill="none" stroke="#1a1a1a" stroke-width="1.5" stroke-linecap="square"/>
<path d="M1760.3 2105.7V2336.1" fill="none" stroke="#1a1a1a" stroke-width="1.7"/>
<path d="M1295 2105.7V2336.1H1761.15" fill="none" stroke="#000" stroke-width="2.2"/>
<path d="M1295 1875.6v5.5M1295 2105.7v-5.5M1295 2336.1v-5.5M1320.85 1875.6v3M1320.85 2105.7v-3M1320.85 2336.1v-3M1346.7 1875.6v5.5M1346.7 2105.7v-5.5M1346.7 2336.1v-5.5M1372.55 1875.6v3M1372.55 2105.7v-3M1372.55 2336.1v-3M1398.4 1875.6v5.5M1398.4 2105.7v-5.5M1398.4 2336.1v-5.5M1424.25 1875.6v3M1424.25 2105.7v-3M1424.25 2336.1v-3M1450.1 1875.6v5.5M1450.1 2105.7v-5.5M1450.1 2336.1v-5.5M1475.95 1875.6v3M1475.95 2105.7v-3M1475.95 2336.1v-3M1501.8 1875.6v5.5M1501.8 2105.7v-5.5M1501.8 2336.1v-5.5M1527.65 1875.6v3M1527.65 2105.7v-3M1527.65 2336.1v-3M1553.5 1875.6v5.5M1553.5 2105.7v-5.5M1553.5 2336.1v-5.5M1579.35 1875.6v3M1579.35 2105.7v-3M1579.35 2336.1v-3M1605.2 1875.6v5.5M1605.2 2105.7v-5.5M1605.2 2336.1v-5.5M1631.05 1875.6v3M1631.05 2105.7v-3M1631.05 2336.1v-3M1656.9 1875.6v5.5M1656.9 2105.7v-5.5M1656.9 2336.1v-5.5M1682.75 1875.6v3M1682.75 2105.7v-3M1682.75 2336.1v-3M1708.6 1875.6v5.5M1708.6 2105.7v-5.5M1708.6 2336.1v-5.5M1734.45 1875.6v3M1734.45 2105.7v-3M1734.45 2336.1v-3M1760.3 1875.6v5.5M1760.3 2105.7v-5.5M1760.3 2336.1v-5.5M1295 1898.15h3M1760.3 1898.15h-3M1295 1927.1h5.5M1760.3 1927.1h-5.5M1295 1956.05h3M1760.3 1956.05h-3M1295 1985h5.5M1760.3 1985h-5.5M1295 2013.95h3M1760.3 2013.95h-3M1295 2042.9h5.5M1760.3 2042.9h-5.5M1295 2071.85h3M1760.3 2071.85h-3M1295 2100.8h5.5M1760.3 2100.8h-5.5M1295 2133.1h3M1760.3 2133.1h-3M1295 2162h5.5M1760.3 2162h-5.5M1295 2190.9h3M1760.3 2190.9h-3M1295 2219.8h5.5M1760.3 2219.8h-5.5M1295 2248.7h3M1760.3 2248.7h-3M1295 2277.6h5.5M1760.3 2277.6h-5.5M1295 2306.5h3M1760.3 2306.5h-3M1295 2335.4h5.5M1760.3 2335.4h-5.5" fill="none" stroke="#1a1a1a" stroke-width="1.4"/>
<text transform="translate(1289.4 1934.6) scale(1 1.04)" font-size="22.8" text-anchor="end">21.33</text>
<text transform="translate(1289.4 1992.5) scale(1 1.04)" font-size="22.8" text-anchor="end">20.54</text>
<text transform="translate(1289.4 2050.4) scale(1 1.04)" font-size="22.8" text-anchor="end">19.75</text>
<text transform="translate(1289.4 2108.3) scale(1 1.04)" font-size="22.8" text-anchor="end">18.96</text>
<text transform="translate(1289.4 2169.5) scale(1 1.04)" font-size="22.8" text-anchor="end">16.2712</text>
<text transform="translate(1289.4 2227.3) scale(1 1.04)" font-size="22.8" text-anchor="end">16.2669</text>
<text transform="translate(1289.4 2285.1) scale(1 1.04)" font-size="22.8" text-anchor="end">16.2626</text>
<text transform="translate(1289.4 2342.9) scale(1 1.04)" font-size="22.8" text-anchor="end">16.2583</text>
<text transform="translate(1295 2360.1) scale(1 1.04)" font-size="22.8" text-anchor="middle">0</text>
<text transform="translate(1346.7 2360.1) scale(1 1.04)" font-size="22.8" text-anchor="middle">10</text>
<text transform="translate(1398.4 2360.1) scale(1 1.04)" font-size="22.8" text-anchor="middle">20</text>
<text transform="translate(1450.1 2360.1) scale(1 1.04)" font-size="22.8" text-anchor="middle">30</text>
<text transform="translate(1501.8 2360.1) scale(1 1.04)" font-size="22.8" text-anchor="middle">40</text>
<text transform="translate(1553.5 2360.1) scale(1 1.04)" font-size="22.8" text-anchor="middle">50</text>
<text transform="translate(1605.2 2360.1) scale(1 1.04)" font-size="22.8" text-anchor="middle">60</text>
<text transform="translate(1656.9 2360.1) scale(1 1.04)" font-size="22.8" text-anchor="middle">70</text>
<text transform="translate(1708.6 2360.1) scale(1 1.04)" font-size="22.8" text-anchor="middle">80</text>
<text transform="translate(1760.3 2360.1) scale(1 1.04)" font-size="22.8" text-anchor="middle">90</text>
<path d="M1312.38 1907.1h6.6v6.2h-6.6ZM1322.72 1961.9h6.6v6.2h-6.6ZM1353.74 2012.5h6.6v6.2h-6.6ZM1358.91 2012.5h6.6v6.2h-6.6ZM1405.44 2016.6h6.6v6.2h-6.6ZM1415.78 2028.3h6.6v6.2h-6.6ZM1426.12 2032.4h6.6v6.2h-6.6ZM1436.46 2055.7h6.6v6.2h-6.6ZM1441.63 2059.8h6.6v6.2h-6.6ZM1457.14 2083.4h6.6v6.2h-6.6ZM1467.48 2083.4h6.6v6.2h-6.6ZM1498.5 2048.2h6.6v6.2h-6.6ZM1508.84 2044h6.6v6.2h-6.6ZM1534.69 2048.2h6.6v6.2h-6.6ZM1550.2 2040.7h6.6v6.2h-6.6ZM1560.54 2055.7h6.6v6.2h-6.6ZM1612.24 2055.7h6.6v6.2h-6.6ZM1653.6 2071.4h6.6v6.2h-6.6ZM1700.13 2063.5h6.6v6.2h-6.6ZM1715.64 2059.8h6.6v6.2h-6.6Z" fill="#000"/>
<polyline points="1315.68,2130.1 1326.02,2144.96 1357.04,2264.93 1362.21,2233.4 1408.74,2238.3 1419.08,2192.92 1429.42,2190.14 1439.76,2179.46 1444.93,2190.53 1460.44,2260.93 1470.78,2279.49 1501.8,2267.12 1512.14,2223.83 1537.99,2235.51 1553.5,2280.07 1563.84,2295.54 1615.54,2295.38 1656.9,2308.3 1703.43,2236.11 1718.94,2287.95 1724.11,2299.32" fill="none" stroke="#505050" stroke-width="1.15" stroke-linejoin="round"/>
<rect x="1624" y="1885" width="123.1" height="33" fill="#fff" stroke="#7a7a7a" stroke-width="1.1"/>
<rect x="1651.5" y="1898.1" width="6.6" height="6.2" fill="#000"/>
<text transform="translate(1687.8 1909.8) scale(1 1.04)" font-size="22.8" text-anchor="start">Expt.</text>
<rect x="1619.2" y="2115.8" width="125.7" height="32.6" fill="#fff" stroke="#7a7a7a" stroke-width="1.1"/>
<path d="M1622.9 2132.3H1676.2" stroke="#505050" stroke-width="1.15"/>
<text transform="translate(1681.14 2140.2) scale(1 1.04)" font-size="22.8" text-anchor="start">Z-B-L</text>
<text transform="translate(1366.87 1912.6) scale(1 1.04)" font-size="22.8" text-anchor="start">Cu (1.86 MeV/u) + Z<tspan dy="3.46">2</tspan></text>
<text transform="translate(1197.26 1882.4) scale(1 1.04)" font-size="41.5" text-anchor="start">L</text>
<text transform="translate(34 276.2) rotate(-90) scale(1 1.04)" font-size="22.8" text-anchor="middle">Mean Charge State</text>
<text transform="translate(39.5 870.95) rotate(-90) scale(1 1.04)" font-size="22.8" text-anchor="middle">Mean Charge State</text>
<text transform="translate(17.1 1504.8) rotate(-90) scale(1 1.04)" font-size="22.8" text-anchor="middle">Mean Charge State</text>
<text transform="translate(36.3 2089.8) rotate(-90) scale(1 1.04)" font-size="22.8" text-anchor="middle">Mean Charge State</text>
<text transform="translate(1522.76 1774.7) scale(1 1.04)" font-size="14" text-anchor="start" font-weight="normal" style="font-weight:normal">A</text>
<text transform="translate(262.85 2404.8) scale(1 1.04)" font-size="22.8">Target Atomic No. <tspan font-size="17.0" dy="0.48">(</tspan><tspan dy="-0.48">Z</tspan><tspan dy="3.65">2</tspan><tspan font-size="17.0" dy="-3.17">)</tspan></text>
<text transform="translate(838.35 2403.0) scale(1 1.04)" font-size="22.8">Target Atomic No. <tspan font-size="17.0" dy="0.48">(</tspan><tspan dy="-0.48">Z</tspan><tspan dy="3.65">2</tspan><tspan font-size="17.0" dy="-3.17">)</tspan></text>
<text transform="translate(1398.05 2405.0) scale(1 1.04)" font-size="22.8">Target Atomic No. <tspan font-size="17.0" dy="0.48">(</tspan><tspan dy="-0.48">Z</tspan><tspan dy="3.65">2</tspan><tspan font-size="17.0" dy="-3.17">)</tspan></text>
</svg>
</body></html>
